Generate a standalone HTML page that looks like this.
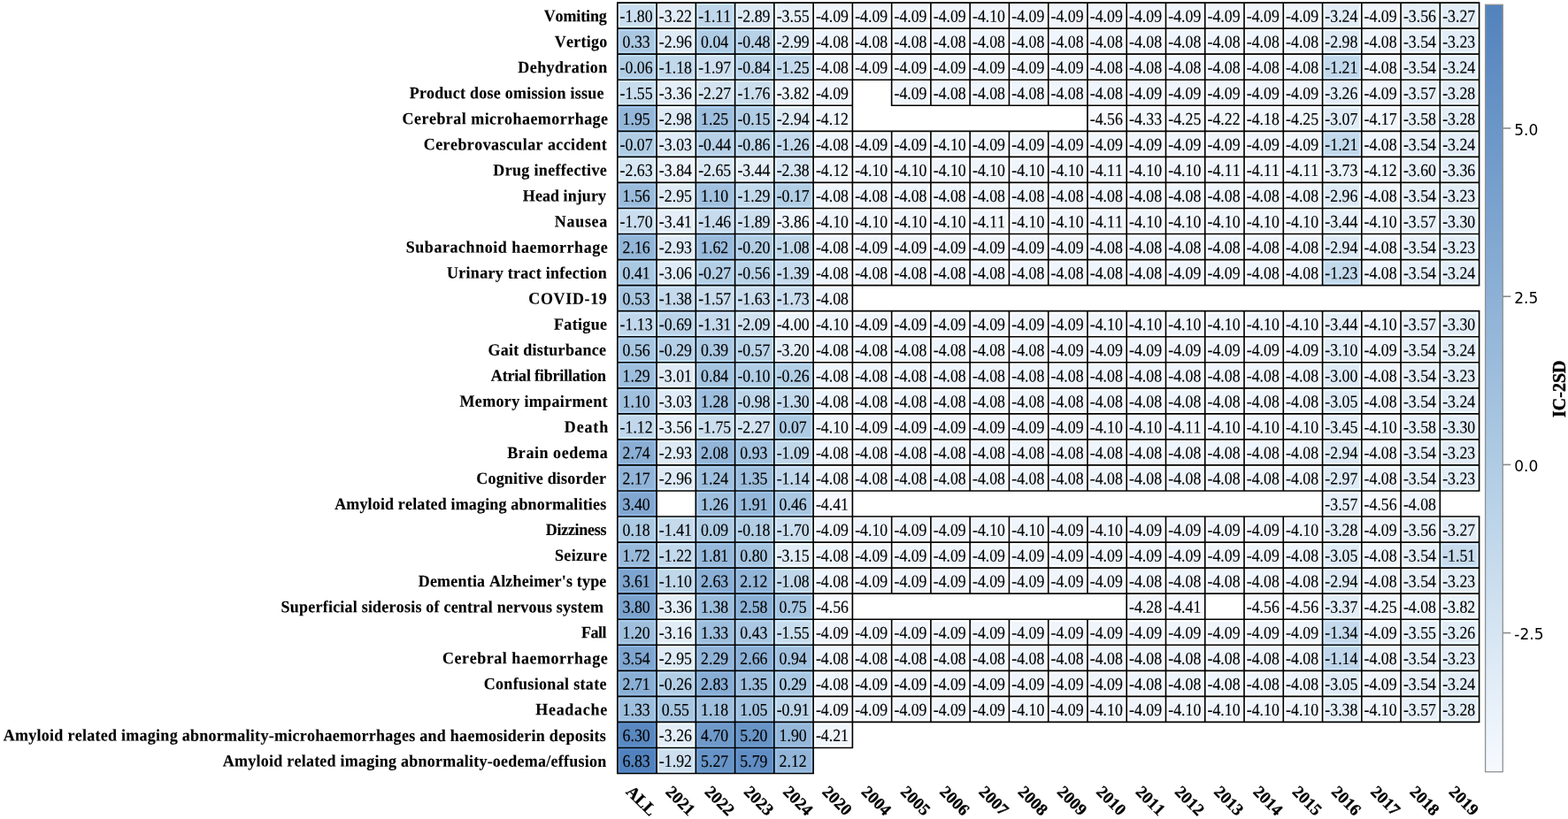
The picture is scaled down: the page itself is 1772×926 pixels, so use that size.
<!DOCTYPE html>
<html lang="en">
<head>
<meta charset="utf-8">
<title>IC-2SD heatmap</title>
<style>
html,body{margin:0;padding:0;background:#fff;}
body{width:1772px;height:926px;overflow:hidden;}
svg{display:block;}
text{fill:#000;font-kerning:none;}
.c{font-family:"Liberation Serif","Times New Roman",Times,serif;font-size:17.8px;text-anchor:middle;stroke:#000;stroke-width:0.12;}
.y{font-family:"Liberation Serif","Times New Roman",Times,serif;font-weight:bold;font-size:18px;white-space:pre;stroke:#000;stroke-width:0.12;}
.x{font-family:"Liberation Serif","Times New Roman",Times,serif;font-weight:bold;font-size:19px;text-anchor:middle;stroke:#000;stroke-width:0.3;}
.t{font-family:"DejaVu Sans","Liberation Sans",sans-serif;font-size:17px;}
.l{font-family:"Liberation Serif","Times New Roman",Times,serif;font-weight:bold;font-size:20px;text-anchor:middle;stroke:#000;stroke-width:0.4;}
.g{fill:none;stroke:#000;stroke-width:1.65;stroke-linecap:square;}
</style>
</head>
<body>
<svg width="1772" height="926" viewBox="0 0 1772 926">
<defs><linearGradient id="g" x1="0" y1="1" x2="0" y2="0"><stop offset="0" stop-color="#f7faff"/><stop offset="0.4" stop-color="#afcce4"/><stop offset="1" stop-color="#5282bd"/></linearGradient></defs>
<g stroke-width="2.83">
<rect x="699.21" y="4.51" width="41.44" height="26.22" fill="#cbdeef" stroke="#daefff"/><rect x="743.48" y="4.51" width="41.44" height="26.22" fill="#e2ecf7" stroke="#f3feff"/><rect x="787.74" y="4.51" width="41.44" height="26.22" fill="#c0d7eb" stroke="#cee7fd"/><rect x="832" y="4.51" width="41.44" height="26.22" fill="#dde9f5" stroke="#eefaff"/><rect x="876.27" y="4.51" width="41.44" height="26.22" fill="#e7f0f9" stroke="#f8ffff"/><rect x="920.53" y="4.51" width="41.44" height="26.22" fill="#f0f5fc" stroke="#ffffff"/><rect x="964.79" y="4.51" width="41.44" height="26.22" fill="#f0f5fc" stroke="#ffffff"/><rect x="1009.06" y="4.51" width="41.44" height="26.22" fill="#f0f5fc" stroke="#ffffff"/><rect x="1053.32" y="4.51" width="41.44" height="26.22" fill="#f0f5fc" stroke="#ffffff"/><rect x="1097.59" y="4.51" width="41.44" height="26.22" fill="#f0f5fc" stroke="#ffffff"/><rect x="1141.85" y="4.51" width="41.44" height="26.22" fill="#f0f5fc" stroke="#ffffff"/><rect x="1186.11" y="4.51" width="41.44" height="26.22" fill="#f0f5fc" stroke="#ffffff"/><rect x="1230.38" y="4.51" width="41.44" height="26.22" fill="#f0f5fc" stroke="#ffffff"/><rect x="1274.64" y="4.51" width="41.44" height="26.22" fill="#f0f5fc" stroke="#ffffff"/><rect x="1318.9" y="4.51" width="41.44" height="26.22" fill="#f0f5fc" stroke="#ffffff"/><rect x="1363.17" y="4.51" width="41.44" height="26.22" fill="#f0f5fc" stroke="#ffffff"/><rect x="1407.43" y="4.51" width="41.44" height="26.22" fill="#f0f5fc" stroke="#ffffff"/><rect x="1451.69" y="4.51" width="41.44" height="26.22" fill="#f0f5fc" stroke="#ffffff"/><rect x="1495.96" y="4.51" width="41.44" height="26.22" fill="#e2edf7" stroke="#f3ffff"/><rect x="1540.22" y="4.51" width="41.44" height="26.22" fill="#f0f5fc" stroke="#ffffff"/><rect x="1584.49" y="4.51" width="41.44" height="26.22" fill="#e7f0f9" stroke="#f8ffff"/><rect x="1628.75" y="4.51" width="41.44" height="26.22" fill="#e3edf7" stroke="#f4ffff"/>
<rect x="699.21" y="33.56" width="41.44" height="26.22" fill="#aac8e2" stroke="#b7d7f3"/><rect x="743.48" y="33.56" width="41.44" height="26.22" fill="#deeaf6" stroke="#effcff"/><rect x="787.74" y="33.56" width="41.44" height="26.22" fill="#aecce4" stroke="#bbdbf5"/><rect x="832" y="33.56" width="41.44" height="26.22" fill="#b7d1e7" stroke="#c5e1f8"/><rect x="876.27" y="33.56" width="41.44" height="26.22" fill="#deeaf6" stroke="#effcff"/><rect x="920.53" y="33.56" width="41.44" height="26.22" fill="#eff5fc" stroke="#ffffff"/><rect x="964.79" y="33.56" width="41.44" height="26.22" fill="#eff5fc" stroke="#ffffff"/><rect x="1009.06" y="33.56" width="41.44" height="26.22" fill="#eff5fc" stroke="#ffffff"/><rect x="1053.32" y="33.56" width="41.44" height="26.22" fill="#eff5fc" stroke="#ffffff"/><rect x="1097.59" y="33.56" width="41.44" height="26.22" fill="#eff5fc" stroke="#ffffff"/><rect x="1141.85" y="33.56" width="41.44" height="26.22" fill="#eff5fc" stroke="#ffffff"/><rect x="1186.11" y="33.56" width="41.44" height="26.22" fill="#eff5fc" stroke="#ffffff"/><rect x="1230.38" y="33.56" width="41.44" height="26.22" fill="#eff5fc" stroke="#ffffff"/><rect x="1274.64" y="33.56" width="41.44" height="26.22" fill="#eff5fc" stroke="#ffffff"/><rect x="1318.9" y="33.56" width="41.44" height="26.22" fill="#eff5fc" stroke="#ffffff"/><rect x="1363.17" y="33.56" width="41.44" height="26.22" fill="#eff5fc" stroke="#ffffff"/><rect x="1407.43" y="33.56" width="41.44" height="26.22" fill="#eff5fc" stroke="#ffffff"/><rect x="1451.69" y="33.56" width="41.44" height="26.22" fill="#eff5fc" stroke="#ffffff"/><rect x="1495.96" y="33.56" width="41.44" height="26.22" fill="#deeaf6" stroke="#effcff"/><rect x="1540.22" y="33.56" width="41.44" height="26.22" fill="#eff5fc" stroke="#ffffff"/><rect x="1584.49" y="33.56" width="41.44" height="26.22" fill="#e7f0f9" stroke="#f8ffff"/><rect x="1628.75" y="33.56" width="41.44" height="26.22" fill="#e2edf7" stroke="#f3ffff"/>
<rect x="699.21" y="62.61" width="41.44" height="26.22" fill="#b0cde4" stroke="#bddcf5"/><rect x="743.48" y="62.61" width="41.44" height="26.22" fill="#c2d8eb" stroke="#d1e8fd"/><rect x="787.74" y="62.61" width="41.44" height="26.22" fill="#cee0f0" stroke="#ddf1ff"/><rect x="832" y="62.61" width="41.44" height="26.22" fill="#bcd4e9" stroke="#cae4fa"/><rect x="876.27" y="62.61" width="41.44" height="26.22" fill="#c3d9eb" stroke="#d2e9fd"/><rect x="920.53" y="62.61" width="41.44" height="26.22" fill="#eff5fc" stroke="#ffffff"/><rect x="964.79" y="62.61" width="41.44" height="26.22" fill="#f0f5fc" stroke="#ffffff"/><rect x="1009.06" y="62.61" width="41.44" height="26.22" fill="#f0f5fc" stroke="#ffffff"/><rect x="1053.32" y="62.61" width="41.44" height="26.22" fill="#f0f5fc" stroke="#ffffff"/><rect x="1097.59" y="62.61" width="41.44" height="26.22" fill="#f0f5fc" stroke="#ffffff"/><rect x="1141.85" y="62.61" width="41.44" height="26.22" fill="#f0f5fc" stroke="#ffffff"/><rect x="1186.11" y="62.61" width="41.44" height="26.22" fill="#f0f5fc" stroke="#ffffff"/><rect x="1230.38" y="62.61" width="41.44" height="26.22" fill="#eff5fc" stroke="#ffffff"/><rect x="1274.64" y="62.61" width="41.44" height="26.22" fill="#eff5fc" stroke="#ffffff"/><rect x="1318.9" y="62.61" width="41.44" height="26.22" fill="#eff5fc" stroke="#ffffff"/><rect x="1363.17" y="62.61" width="41.44" height="26.22" fill="#eff5fc" stroke="#ffffff"/><rect x="1407.43" y="62.61" width="41.44" height="26.22" fill="#eff5fc" stroke="#ffffff"/><rect x="1451.69" y="62.61" width="41.44" height="26.22" fill="#eff5fc" stroke="#ffffff"/><rect x="1495.96" y="62.61" width="41.44" height="26.22" fill="#c2d8eb" stroke="#d1e8fd"/><rect x="1540.22" y="62.61" width="41.44" height="26.22" fill="#eff5fc" stroke="#ffffff"/><rect x="1584.49" y="62.61" width="41.44" height="26.22" fill="#e7f0f9" stroke="#f8ffff"/><rect x="1628.75" y="62.61" width="41.44" height="26.22" fill="#e2edf7" stroke="#f3ffff"/>
<rect x="699.21" y="91.65" width="41.44" height="26.22" fill="#c7dced" stroke="#d6ecff"/><rect x="743.48" y="91.65" width="41.44" height="26.22" fill="#e4eef8" stroke="#f5ffff"/><rect x="787.74" y="91.65" width="41.44" height="26.22" fill="#d3e3f1" stroke="#e3f4ff"/><rect x="832" y="91.65" width="41.44" height="26.22" fill="#cbdeee" stroke="#daefff"/><rect x="876.27" y="91.65" width="41.44" height="26.22" fill="#ebf3fb" stroke="#fdffff"/><rect x="920.53" y="91.65" width="41.44" height="26.22" fill="#f0f5fc" stroke="#ffffff"/><rect x="1009.06" y="91.65" width="41.44" height="26.22" fill="#f0f5fc" stroke="#ffffff"/><rect x="1053.32" y="91.65" width="41.44" height="26.22" fill="#eff5fc" stroke="#ffffff"/><rect x="1097.59" y="91.65" width="41.44" height="26.22" fill="#eff5fc" stroke="#ffffff"/><rect x="1141.85" y="91.65" width="41.44" height="26.22" fill="#eff5fc" stroke="#ffffff"/><rect x="1186.11" y="91.65" width="41.44" height="26.22" fill="#eff5fc" stroke="#ffffff"/><rect x="1230.38" y="91.65" width="41.44" height="26.22" fill="#eff5fc" stroke="#ffffff"/><rect x="1274.64" y="91.65" width="41.44" height="26.22" fill="#f0f5fc" stroke="#ffffff"/><rect x="1318.9" y="91.65" width="41.44" height="26.22" fill="#f0f5fc" stroke="#ffffff"/><rect x="1363.17" y="91.65" width="41.44" height="26.22" fill="#f0f5fc" stroke="#ffffff"/><rect x="1407.43" y="91.65" width="41.44" height="26.22" fill="#f0f5fc" stroke="#ffffff"/><rect x="1451.69" y="91.65" width="41.44" height="26.22" fill="#f0f5fc" stroke="#ffffff"/><rect x="1495.96" y="91.65" width="41.44" height="26.22" fill="#e2edf7" stroke="#f3ffff"/><rect x="1540.22" y="91.65" width="41.44" height="26.22" fill="#f0f5fc" stroke="#ffffff"/><rect x="1584.49" y="91.65" width="41.44" height="26.22" fill="#e7f0f9" stroke="#f8ffff"/><rect x="1628.75" y="91.65" width="41.44" height="26.22" fill="#e3edf7" stroke="#f4ffff"/>
<rect x="699.21" y="120.7" width="41.44" height="26.22" fill="#94b7d9" stroke="#9fc5e9"/><rect x="743.48" y="120.7" width="41.44" height="26.22" fill="#deeaf6" stroke="#effcff"/><rect x="787.74" y="120.7" width="41.44" height="26.22" fill="#9ebedd" stroke="#aaccee"/><rect x="832" y="120.7" width="41.44" height="26.22" fill="#b1cde5" stroke="#bedcf6"/><rect x="876.27" y="120.7" width="41.44" height="26.22" fill="#ddeaf5" stroke="#eefcff"/><rect x="920.53" y="120.7" width="41.44" height="26.22" fill="#f0f6fc" stroke="#ffffff"/><rect x="1230.38" y="120.7" width="41.44" height="26.22" fill="#f7faff" stroke="#ffffff"/><rect x="1274.64" y="120.7" width="41.44" height="26.22" fill="#f3f8fe" stroke="#ffffff"/><rect x="1318.9" y="120.7" width="41.44" height="26.22" fill="#f2f7fd" stroke="#ffffff"/><rect x="1363.17" y="120.7" width="41.44" height="26.22" fill="#f2f7fd" stroke="#ffffff"/><rect x="1407.43" y="120.7" width="41.44" height="26.22" fill="#f1f6fd" stroke="#ffffff"/><rect x="1451.69" y="120.7" width="41.44" height="26.22" fill="#f2f7fd" stroke="#ffffff"/><rect x="1495.96" y="120.7" width="41.44" height="26.22" fill="#dfebf6" stroke="#f0fdff"/><rect x="1540.22" y="120.7" width="41.44" height="26.22" fill="#f1f6fd" stroke="#ffffff"/><rect x="1584.49" y="120.7" width="41.44" height="26.22" fill="#e8f0f9" stroke="#f9ffff"/><rect x="1628.75" y="120.7" width="41.44" height="26.22" fill="#e3edf7" stroke="#f4ffff"/>
<rect x="699.21" y="149.75" width="41.44" height="26.22" fill="#b0cde4" stroke="#bddcf5"/><rect x="743.48" y="149.75" width="41.44" height="26.22" fill="#dfebf6" stroke="#f0fdff"/><rect x="787.74" y="149.75" width="41.44" height="26.22" fill="#b6d0e7" stroke="#c4e0f8"/><rect x="832" y="149.75" width="41.44" height="26.22" fill="#bdd5e9" stroke="#cbe5fa"/><rect x="876.27" y="149.75" width="41.44" height="26.22" fill="#c3d9eb" stroke="#d2e9fd"/><rect x="920.53" y="149.75" width="41.44" height="26.22" fill="#eff5fc" stroke="#ffffff"/><rect x="964.79" y="149.75" width="41.44" height="26.22" fill="#f0f5fc" stroke="#ffffff"/><rect x="1009.06" y="149.75" width="41.44" height="26.22" fill="#f0f5fc" stroke="#ffffff"/><rect x="1053.32" y="149.75" width="41.44" height="26.22" fill="#f0f5fc" stroke="#ffffff"/><rect x="1097.59" y="149.75" width="41.44" height="26.22" fill="#f0f5fc" stroke="#ffffff"/><rect x="1141.85" y="149.75" width="41.44" height="26.22" fill="#f0f5fc" stroke="#ffffff"/><rect x="1186.11" y="149.75" width="41.44" height="26.22" fill="#f0f5fc" stroke="#ffffff"/><rect x="1230.38" y="149.75" width="41.44" height="26.22" fill="#f0f5fc" stroke="#ffffff"/><rect x="1274.64" y="149.75" width="41.44" height="26.22" fill="#f0f5fc" stroke="#ffffff"/><rect x="1318.9" y="149.75" width="41.44" height="26.22" fill="#f0f5fc" stroke="#ffffff"/><rect x="1363.17" y="149.75" width="41.44" height="26.22" fill="#f0f5fc" stroke="#ffffff"/><rect x="1407.43" y="149.75" width="41.44" height="26.22" fill="#f0f5fc" stroke="#ffffff"/><rect x="1451.69" y="149.75" width="41.44" height="26.22" fill="#f0f5fc" stroke="#ffffff"/><rect x="1495.96" y="149.75" width="41.44" height="26.22" fill="#c2d8eb" stroke="#d1e8fd"/><rect x="1540.22" y="149.75" width="41.44" height="26.22" fill="#eff5fc" stroke="#ffffff"/><rect x="1584.49" y="149.75" width="41.44" height="26.22" fill="#e7f0f9" stroke="#f8ffff"/><rect x="1628.75" y="149.75" width="41.44" height="26.22" fill="#e2edf7" stroke="#f3ffff"/>
<rect x="699.21" y="178.79" width="41.44" height="26.22" fill="#d8e7f4" stroke="#e8f8ff"/><rect x="743.48" y="178.79" width="41.44" height="26.22" fill="#ecf3fb" stroke="#feffff"/><rect x="787.74" y="178.79" width="41.44" height="26.22" fill="#d9e7f4" stroke="#e9f8ff"/><rect x="832" y="178.79" width="41.44" height="26.22" fill="#e5eff8" stroke="#f6ffff"/><rect x="876.27" y="178.79" width="41.44" height="26.22" fill="#d5e4f2" stroke="#e5f5ff"/><rect x="920.53" y="178.79" width="41.44" height="26.22" fill="#f0f6fc" stroke="#ffffff"/><rect x="964.79" y="178.79" width="41.44" height="26.22" fill="#f0f5fc" stroke="#ffffff"/><rect x="1009.06" y="178.79" width="41.44" height="26.22" fill="#f0f5fc" stroke="#ffffff"/><rect x="1053.32" y="178.79" width="41.44" height="26.22" fill="#f0f5fc" stroke="#ffffff"/><rect x="1097.59" y="178.79" width="41.44" height="26.22" fill="#f0f5fc" stroke="#ffffff"/><rect x="1141.85" y="178.79" width="41.44" height="26.22" fill="#f0f5fc" stroke="#ffffff"/><rect x="1186.11" y="178.79" width="41.44" height="26.22" fill="#f0f5fc" stroke="#ffffff"/><rect x="1230.38" y="178.79" width="41.44" height="26.22" fill="#f0f5fc" stroke="#ffffff"/><rect x="1274.64" y="178.79" width="41.44" height="26.22" fill="#f0f5fc" stroke="#ffffff"/><rect x="1318.9" y="178.79" width="41.44" height="26.22" fill="#f0f5fc" stroke="#ffffff"/><rect x="1363.17" y="178.79" width="41.44" height="26.22" fill="#f0f5fc" stroke="#ffffff"/><rect x="1407.43" y="178.79" width="41.44" height="26.22" fill="#f0f5fc" stroke="#ffffff"/><rect x="1451.69" y="178.79" width="41.44" height="26.22" fill="#f0f5fc" stroke="#ffffff"/><rect x="1495.96" y="178.79" width="41.44" height="26.22" fill="#eaf2fa" stroke="#fcffff"/><rect x="1540.22" y="178.79" width="41.44" height="26.22" fill="#f0f6fc" stroke="#ffffff"/><rect x="1584.49" y="178.79" width="41.44" height="26.22" fill="#e8f0f9" stroke="#f9ffff"/><rect x="1628.75" y="178.79" width="41.44" height="26.22" fill="#e4eef8" stroke="#f5ffff"/>
<rect x="699.21" y="207.84" width="41.44" height="26.22" fill="#9abbdb" stroke="#a6c9eb"/><rect x="743.48" y="207.84" width="41.44" height="26.22" fill="#deeaf5" stroke="#effcff"/><rect x="787.74" y="207.84" width="41.44" height="26.22" fill="#a0c0de" stroke="#acceef"/><rect x="832" y="207.84" width="41.44" height="26.22" fill="#c3d9ec" stroke="#d2e9fe"/><rect x="876.27" y="207.84" width="41.44" height="26.22" fill="#b2cee5" stroke="#bfddf6"/><rect x="920.53" y="207.84" width="41.44" height="26.22" fill="#eff5fc" stroke="#ffffff"/><rect x="964.79" y="207.84" width="41.44" height="26.22" fill="#eff5fc" stroke="#ffffff"/><rect x="1009.06" y="207.84" width="41.44" height="26.22" fill="#eff5fc" stroke="#ffffff"/><rect x="1053.32" y="207.84" width="41.44" height="26.22" fill="#eff5fc" stroke="#ffffff"/><rect x="1097.59" y="207.84" width="41.44" height="26.22" fill="#eff5fc" stroke="#ffffff"/><rect x="1141.85" y="207.84" width="41.44" height="26.22" fill="#eff5fc" stroke="#ffffff"/><rect x="1186.11" y="207.84" width="41.44" height="26.22" fill="#eff5fc" stroke="#ffffff"/><rect x="1230.38" y="207.84" width="41.44" height="26.22" fill="#eff5fc" stroke="#ffffff"/><rect x="1274.64" y="207.84" width="41.44" height="26.22" fill="#eff5fc" stroke="#ffffff"/><rect x="1318.9" y="207.84" width="41.44" height="26.22" fill="#eff5fc" stroke="#ffffff"/><rect x="1363.17" y="207.84" width="41.44" height="26.22" fill="#eff5fc" stroke="#ffffff"/><rect x="1407.43" y="207.84" width="41.44" height="26.22" fill="#eff5fc" stroke="#ffffff"/><rect x="1451.69" y="207.84" width="41.44" height="26.22" fill="#eff5fc" stroke="#ffffff"/><rect x="1495.96" y="207.84" width="41.44" height="26.22" fill="#deeaf6" stroke="#effcff"/><rect x="1540.22" y="207.84" width="41.44" height="26.22" fill="#eff5fc" stroke="#ffffff"/><rect x="1584.49" y="207.84" width="41.44" height="26.22" fill="#e7f0f9" stroke="#f8ffff"/><rect x="1628.75" y="207.84" width="41.44" height="26.22" fill="#e2edf7" stroke="#f3ffff"/>
<rect x="699.21" y="236.89" width="41.44" height="26.22" fill="#caddee" stroke="#d9eeff"/><rect x="743.48" y="236.89" width="41.44" height="26.22" fill="#e5eef8" stroke="#f6ffff"/><rect x="787.74" y="236.89" width="41.44" height="26.22" fill="#c6dbed" stroke="#d5ebff"/><rect x="832" y="236.89" width="41.44" height="26.22" fill="#cddfef" stroke="#dcf0ff"/><rect x="876.27" y="236.89" width="41.44" height="26.22" fill="#ecf3fb" stroke="#feffff"/><rect x="920.53" y="236.89" width="41.44" height="26.22" fill="#f0f5fc" stroke="#ffffff"/><rect x="964.79" y="236.89" width="41.44" height="26.22" fill="#f0f5fc" stroke="#ffffff"/><rect x="1009.06" y="236.89" width="41.44" height="26.22" fill="#f0f5fc" stroke="#ffffff"/><rect x="1053.32" y="236.89" width="41.44" height="26.22" fill="#f0f5fc" stroke="#ffffff"/><rect x="1097.59" y="236.89" width="41.44" height="26.22" fill="#f0f5fc" stroke="#ffffff"/><rect x="1141.85" y="236.89" width="41.44" height="26.22" fill="#f0f5fc" stroke="#ffffff"/><rect x="1186.11" y="236.89" width="41.44" height="26.22" fill="#f0f5fc" stroke="#ffffff"/><rect x="1230.38" y="236.89" width="41.44" height="26.22" fill="#f0f5fc" stroke="#ffffff"/><rect x="1274.64" y="236.89" width="41.44" height="26.22" fill="#f0f5fc" stroke="#ffffff"/><rect x="1318.9" y="236.89" width="41.44" height="26.22" fill="#f0f5fc" stroke="#ffffff"/><rect x="1363.17" y="236.89" width="41.44" height="26.22" fill="#f0f5fc" stroke="#ffffff"/><rect x="1407.43" y="236.89" width="41.44" height="26.22" fill="#f0f5fc" stroke="#ffffff"/><rect x="1451.69" y="236.89" width="41.44" height="26.22" fill="#f0f5fc" stroke="#ffffff"/><rect x="1495.96" y="236.89" width="41.44" height="26.22" fill="#e5eff8" stroke="#f6ffff"/><rect x="1540.22" y="236.89" width="41.44" height="26.22" fill="#f0f5fc" stroke="#ffffff"/><rect x="1584.49" y="236.89" width="41.44" height="26.22" fill="#e7f0f9" stroke="#f8ffff"/><rect x="1628.75" y="236.89" width="41.44" height="26.22" fill="#e3edf8" stroke="#f4ffff"/>
<rect x="699.21" y="265.93" width="41.44" height="26.22" fill="#92b5d8" stroke="#9dc3e8"/><rect x="743.48" y="265.93" width="41.44" height="26.22" fill="#ddeaf5" stroke="#eefcff"/><rect x="787.74" y="265.93" width="41.44" height="26.22" fill="#99badb" stroke="#a4c8eb"/><rect x="832" y="265.93" width="41.44" height="26.22" fill="#b2cee5" stroke="#bfddf6"/><rect x="876.27" y="265.93" width="41.44" height="26.22" fill="#c0d7ea" stroke="#cee7fc"/><rect x="920.53" y="265.93" width="41.44" height="26.22" fill="#eff5fc" stroke="#ffffff"/><rect x="964.79" y="265.93" width="41.44" height="26.22" fill="#f0f5fc" stroke="#ffffff"/><rect x="1009.06" y="265.93" width="41.44" height="26.22" fill="#f0f5fc" stroke="#ffffff"/><rect x="1053.32" y="265.93" width="41.44" height="26.22" fill="#f0f5fc" stroke="#ffffff"/><rect x="1097.59" y="265.93" width="41.44" height="26.22" fill="#f0f5fc" stroke="#ffffff"/><rect x="1141.85" y="265.93" width="41.44" height="26.22" fill="#f0f5fc" stroke="#ffffff"/><rect x="1186.11" y="265.93" width="41.44" height="26.22" fill="#f0f5fc" stroke="#ffffff"/><rect x="1230.38" y="265.93" width="41.44" height="26.22" fill="#eff5fc" stroke="#ffffff"/><rect x="1274.64" y="265.93" width="41.44" height="26.22" fill="#eff5fc" stroke="#ffffff"/><rect x="1318.9" y="265.93" width="41.44" height="26.22" fill="#eff5fc" stroke="#ffffff"/><rect x="1363.17" y="265.93" width="41.44" height="26.22" fill="#eff5fc" stroke="#ffffff"/><rect x="1407.43" y="265.93" width="41.44" height="26.22" fill="#eff5fc" stroke="#ffffff"/><rect x="1451.69" y="265.93" width="41.44" height="26.22" fill="#eff5fc" stroke="#ffffff"/><rect x="1495.96" y="265.93" width="41.44" height="26.22" fill="#ddeaf5" stroke="#eefcff"/><rect x="1540.22" y="265.93" width="41.44" height="26.22" fill="#eff5fc" stroke="#ffffff"/><rect x="1584.49" y="265.93" width="41.44" height="26.22" fill="#e7f0f9" stroke="#f8ffff"/><rect x="1628.75" y="265.93" width="41.44" height="26.22" fill="#e2edf7" stroke="#f3ffff"/>
<rect x="699.21" y="294.98" width="41.44" height="26.22" fill="#a9c8e2" stroke="#b6d7f3"/><rect x="743.48" y="294.98" width="41.44" height="26.22" fill="#dfebf6" stroke="#f0fdff"/><rect x="787.74" y="294.98" width="41.44" height="26.22" fill="#b3cfe6" stroke="#c0dff7"/><rect x="832" y="294.98" width="41.44" height="26.22" fill="#b8d2e7" stroke="#c6e2f8"/><rect x="876.27" y="294.98" width="41.44" height="26.22" fill="#c5daec" stroke="#d4eafe"/><rect x="920.53" y="294.98" width="41.44" height="26.22" fill="#eff5fc" stroke="#ffffff"/><rect x="964.79" y="294.98" width="41.44" height="26.22" fill="#eff5fc" stroke="#ffffff"/><rect x="1009.06" y="294.98" width="41.44" height="26.22" fill="#eff5fc" stroke="#ffffff"/><rect x="1053.32" y="294.98" width="41.44" height="26.22" fill="#eff5fc" stroke="#ffffff"/><rect x="1097.59" y="294.98" width="41.44" height="26.22" fill="#eff5fc" stroke="#ffffff"/><rect x="1141.85" y="294.98" width="41.44" height="26.22" fill="#eff5fc" stroke="#ffffff"/><rect x="1186.11" y="294.98" width="41.44" height="26.22" fill="#eff5fc" stroke="#ffffff"/><rect x="1230.38" y="294.98" width="41.44" height="26.22" fill="#eff5fc" stroke="#ffffff"/><rect x="1274.64" y="294.98" width="41.44" height="26.22" fill="#eff5fc" stroke="#ffffff"/><rect x="1318.9" y="294.98" width="41.44" height="26.22" fill="#f0f5fc" stroke="#ffffff"/><rect x="1363.17" y="294.98" width="41.44" height="26.22" fill="#f0f5fc" stroke="#ffffff"/><rect x="1407.43" y="294.98" width="41.44" height="26.22" fill="#eff5fc" stroke="#ffffff"/><rect x="1451.69" y="294.98" width="41.44" height="26.22" fill="#eff5fc" stroke="#ffffff"/><rect x="1495.96" y="294.98" width="41.44" height="26.22" fill="#c2d8eb" stroke="#d1e8fd"/><rect x="1540.22" y="294.98" width="41.44" height="26.22" fill="#eff5fc" stroke="#ffffff"/><rect x="1584.49" y="294.98" width="41.44" height="26.22" fill="#e7f0f9" stroke="#f8ffff"/><rect x="1628.75" y="294.98" width="41.44" height="26.22" fill="#e2edf7" stroke="#f3ffff"/>
<rect x="699.21" y="324.03" width="41.44" height="26.22" fill="#a8c6e1" stroke="#b5d5f2"/><rect x="743.48" y="324.03" width="41.44" height="26.22" fill="#c5daec" stroke="#d4eafe"/><rect x="787.74" y="324.03" width="41.44" height="26.22" fill="#c8dced" stroke="#d7ecff"/><rect x="832" y="324.03" width="41.44" height="26.22" fill="#c9dcee" stroke="#d8ecff"/><rect x="876.27" y="324.03" width="41.44" height="26.22" fill="#caddee" stroke="#d9eeff"/><rect x="920.53" y="324.03" width="41.44" height="26.22" fill="#eff5fc" stroke="#ffffff"/>
<rect x="699.21" y="353.07" width="41.44" height="26.22" fill="#c1d7eb" stroke="#cfe7fd"/><rect x="743.48" y="353.07" width="41.44" height="26.22" fill="#bad3e8" stroke="#c8e3f9"/><rect x="787.74" y="353.07" width="41.44" height="26.22" fill="#c4d9ec" stroke="#d3e9fe"/><rect x="832" y="353.07" width="41.44" height="26.22" fill="#d0e1f0" stroke="#e0f2ff"/><rect x="876.27" y="353.07" width="41.44" height="26.22" fill="#eef4fc" stroke="#ffffff"/><rect x="920.53" y="353.07" width="41.44" height="26.22" fill="#f0f5fc" stroke="#ffffff"/><rect x="964.79" y="353.07" width="41.44" height="26.22" fill="#f0f5fc" stroke="#ffffff"/><rect x="1009.06" y="353.07" width="41.44" height="26.22" fill="#f0f5fc" stroke="#ffffff"/><rect x="1053.32" y="353.07" width="41.44" height="26.22" fill="#f0f5fc" stroke="#ffffff"/><rect x="1097.59" y="353.07" width="41.44" height="26.22" fill="#f0f5fc" stroke="#ffffff"/><rect x="1141.85" y="353.07" width="41.44" height="26.22" fill="#f0f5fc" stroke="#ffffff"/><rect x="1186.11" y="353.07" width="41.44" height="26.22" fill="#f0f5fc" stroke="#ffffff"/><rect x="1230.38" y="353.07" width="41.44" height="26.22" fill="#f0f5fc" stroke="#ffffff"/><rect x="1274.64" y="353.07" width="41.44" height="26.22" fill="#f0f5fc" stroke="#ffffff"/><rect x="1318.9" y="353.07" width="41.44" height="26.22" fill="#f0f5fc" stroke="#ffffff"/><rect x="1363.17" y="353.07" width="41.44" height="26.22" fill="#f0f5fc" stroke="#ffffff"/><rect x="1407.43" y="353.07" width="41.44" height="26.22" fill="#f0f5fc" stroke="#ffffff"/><rect x="1451.69" y="353.07" width="41.44" height="26.22" fill="#f0f5fc" stroke="#ffffff"/><rect x="1495.96" y="353.07" width="41.44" height="26.22" fill="#e5eff8" stroke="#f6ffff"/><rect x="1540.22" y="353.07" width="41.44" height="26.22" fill="#f0f5fc" stroke="#ffffff"/><rect x="1584.49" y="353.07" width="41.44" height="26.22" fill="#e7f0f9" stroke="#f8ffff"/><rect x="1628.75" y="353.07" width="41.44" height="26.22" fill="#e3edf8" stroke="#f4ffff"/>
<rect x="699.21" y="382.12" width="41.44" height="26.22" fill="#a7c6e1" stroke="#b4d5f2"/><rect x="743.48" y="382.12" width="41.44" height="26.22" fill="#b4cfe6" stroke="#c2dff7"/><rect x="787.74" y="382.12" width="41.44" height="26.22" fill="#aac8e2" stroke="#b7d7f3"/><rect x="832" y="382.12" width="41.44" height="26.22" fill="#b8d2e7" stroke="#c6e2f8"/><rect x="876.27" y="382.12" width="41.44" height="26.22" fill="#e2ecf7" stroke="#f3feff"/><rect x="920.53" y="382.12" width="41.44" height="26.22" fill="#eff5fc" stroke="#ffffff"/><rect x="964.79" y="382.12" width="41.44" height="26.22" fill="#eff5fc" stroke="#ffffff"/><rect x="1009.06" y="382.12" width="41.44" height="26.22" fill="#eff5fc" stroke="#ffffff"/><rect x="1053.32" y="382.12" width="41.44" height="26.22" fill="#eff5fc" stroke="#ffffff"/><rect x="1097.59" y="382.12" width="41.44" height="26.22" fill="#eff5fc" stroke="#ffffff"/><rect x="1141.85" y="382.12" width="41.44" height="26.22" fill="#eff5fc" stroke="#ffffff"/><rect x="1186.11" y="382.12" width="41.44" height="26.22" fill="#f0f5fc" stroke="#ffffff"/><rect x="1230.38" y="382.12" width="41.44" height="26.22" fill="#f0f5fc" stroke="#ffffff"/><rect x="1274.64" y="382.12" width="41.44" height="26.22" fill="#f0f5fc" stroke="#ffffff"/><rect x="1318.9" y="382.12" width="41.44" height="26.22" fill="#f0f5fc" stroke="#ffffff"/><rect x="1363.17" y="382.12" width="41.44" height="26.22" fill="#f0f5fc" stroke="#ffffff"/><rect x="1407.43" y="382.12" width="41.44" height="26.22" fill="#f0f5fc" stroke="#ffffff"/><rect x="1451.69" y="382.12" width="41.44" height="26.22" fill="#f0f5fc" stroke="#ffffff"/><rect x="1495.96" y="382.12" width="41.44" height="26.22" fill="#e0ebf6" stroke="#f1fdff"/><rect x="1540.22" y="382.12" width="41.44" height="26.22" fill="#f0f5fc" stroke="#ffffff"/><rect x="1584.49" y="382.12" width="41.44" height="26.22" fill="#e7f0f9" stroke="#f8ffff"/><rect x="1628.75" y="382.12" width="41.44" height="26.22" fill="#e2edf7" stroke="#f3ffff"/>
<rect x="699.21" y="411.17" width="41.44" height="26.22" fill="#9dbedd" stroke="#a9ccee"/><rect x="743.48" y="411.17" width="41.44" height="26.22" fill="#dfeaf6" stroke="#f0fcff"/><rect x="787.74" y="411.17" width="41.44" height="26.22" fill="#a4c3df" stroke="#b0d2f0"/><rect x="832" y="411.17" width="41.44" height="26.22" fill="#b1cde5" stroke="#bedcf6"/><rect x="876.27" y="411.17" width="41.44" height="26.22" fill="#b3cfe6" stroke="#c0dff7"/><rect x="920.53" y="411.17" width="41.44" height="26.22" fill="#eff5fc" stroke="#ffffff"/><rect x="964.79" y="411.17" width="41.44" height="26.22" fill="#eff5fc" stroke="#ffffff"/><rect x="1009.06" y="411.17" width="41.44" height="26.22" fill="#eff5fc" stroke="#ffffff"/><rect x="1053.32" y="411.17" width="41.44" height="26.22" fill="#eff5fc" stroke="#ffffff"/><rect x="1097.59" y="411.17" width="41.44" height="26.22" fill="#eff5fc" stroke="#ffffff"/><rect x="1141.85" y="411.17" width="41.44" height="26.22" fill="#eff5fc" stroke="#ffffff"/><rect x="1186.11" y="411.17" width="41.44" height="26.22" fill="#eff5fc" stroke="#ffffff"/><rect x="1230.38" y="411.17" width="41.44" height="26.22" fill="#eff5fc" stroke="#ffffff"/><rect x="1274.64" y="411.17" width="41.44" height="26.22" fill="#eff5fc" stroke="#ffffff"/><rect x="1318.9" y="411.17" width="41.44" height="26.22" fill="#eff5fc" stroke="#ffffff"/><rect x="1363.17" y="411.17" width="41.44" height="26.22" fill="#eff5fc" stroke="#ffffff"/><rect x="1407.43" y="411.17" width="41.44" height="26.22" fill="#eff5fc" stroke="#ffffff"/><rect x="1451.69" y="411.17" width="41.44" height="26.22" fill="#eff5fc" stroke="#ffffff"/><rect x="1495.96" y="411.17" width="41.44" height="26.22" fill="#deeaf6" stroke="#effcff"/><rect x="1540.22" y="411.17" width="41.44" height="26.22" fill="#eff5fc" stroke="#ffffff"/><rect x="1584.49" y="411.17" width="41.44" height="26.22" fill="#e7f0f9" stroke="#f8ffff"/><rect x="1628.75" y="411.17" width="41.44" height="26.22" fill="#e2edf7" stroke="#f3ffff"/>
<rect x="699.21" y="440.21" width="41.44" height="26.22" fill="#a0c0de" stroke="#acceef"/><rect x="743.48" y="440.21" width="41.44" height="26.22" fill="#dfebf6" stroke="#f0fdff"/><rect x="787.74" y="440.21" width="41.44" height="26.22" fill="#9ebedd" stroke="#aaccee"/><rect x="832" y="440.21" width="41.44" height="26.22" fill="#bed6ea" stroke="#cce6fc"/><rect x="876.27" y="440.21" width="41.44" height="26.22" fill="#c3d9ec" stroke="#d2e9fe"/><rect x="920.53" y="440.21" width="41.44" height="26.22" fill="#eff5fc" stroke="#ffffff"/><rect x="964.79" y="440.21" width="41.44" height="26.22" fill="#eff5fc" stroke="#ffffff"/><rect x="1009.06" y="440.21" width="41.44" height="26.22" fill="#eff5fc" stroke="#ffffff"/><rect x="1053.32" y="440.21" width="41.44" height="26.22" fill="#eff5fc" stroke="#ffffff"/><rect x="1097.59" y="440.21" width="41.44" height="26.22" fill="#eff5fc" stroke="#ffffff"/><rect x="1141.85" y="440.21" width="41.44" height="26.22" fill="#eff5fc" stroke="#ffffff"/><rect x="1186.11" y="440.21" width="41.44" height="26.22" fill="#eff5fc" stroke="#ffffff"/><rect x="1230.38" y="440.21" width="41.44" height="26.22" fill="#eff5fc" stroke="#ffffff"/><rect x="1274.64" y="440.21" width="41.44" height="26.22" fill="#eff5fc" stroke="#ffffff"/><rect x="1318.9" y="440.21" width="41.44" height="26.22" fill="#eff5fc" stroke="#ffffff"/><rect x="1363.17" y="440.21" width="41.44" height="26.22" fill="#eff5fc" stroke="#ffffff"/><rect x="1407.43" y="440.21" width="41.44" height="26.22" fill="#eff5fc" stroke="#ffffff"/><rect x="1451.69" y="440.21" width="41.44" height="26.22" fill="#eff5fc" stroke="#ffffff"/><rect x="1495.96" y="440.21" width="41.44" height="26.22" fill="#dfebf6" stroke="#f0fdff"/><rect x="1540.22" y="440.21" width="41.44" height="26.22" fill="#eff5fc" stroke="#ffffff"/><rect x="1584.49" y="440.21" width="41.44" height="26.22" fill="#e7f0f9" stroke="#f8ffff"/><rect x="1628.75" y="440.21" width="41.44" height="26.22" fill="#e2edf7" stroke="#f3ffff"/>
<rect x="699.21" y="469.26" width="41.44" height="26.22" fill="#c1d7eb" stroke="#cfe7fd"/><rect x="743.48" y="469.26" width="41.44" height="26.22" fill="#e7f0f9" stroke="#f8ffff"/><rect x="787.74" y="469.26" width="41.44" height="26.22" fill="#cbdeee" stroke="#daefff"/><rect x="832" y="469.26" width="41.44" height="26.22" fill="#d3e3f1" stroke="#e3f4ff"/><rect x="876.27" y="469.26" width="41.44" height="26.22" fill="#aecbe4" stroke="#bbdaf5"/><rect x="920.53" y="469.26" width="41.44" height="26.22" fill="#f0f5fc" stroke="#ffffff"/><rect x="964.79" y="469.26" width="41.44" height="26.22" fill="#f0f5fc" stroke="#ffffff"/><rect x="1009.06" y="469.26" width="41.44" height="26.22" fill="#f0f5fc" stroke="#ffffff"/><rect x="1053.32" y="469.26" width="41.44" height="26.22" fill="#f0f5fc" stroke="#ffffff"/><rect x="1097.59" y="469.26" width="41.44" height="26.22" fill="#f0f5fc" stroke="#ffffff"/><rect x="1141.85" y="469.26" width="41.44" height="26.22" fill="#f0f5fc" stroke="#ffffff"/><rect x="1186.11" y="469.26" width="41.44" height="26.22" fill="#f0f5fc" stroke="#ffffff"/><rect x="1230.38" y="469.26" width="41.44" height="26.22" fill="#f0f5fc" stroke="#ffffff"/><rect x="1274.64" y="469.26" width="41.44" height="26.22" fill="#f0f5fc" stroke="#ffffff"/><rect x="1318.9" y="469.26" width="41.44" height="26.22" fill="#f0f5fc" stroke="#ffffff"/><rect x="1363.17" y="469.26" width="41.44" height="26.22" fill="#f0f5fc" stroke="#ffffff"/><rect x="1407.43" y="469.26" width="41.44" height="26.22" fill="#f0f5fc" stroke="#ffffff"/><rect x="1451.69" y="469.26" width="41.44" height="26.22" fill="#f0f5fc" stroke="#ffffff"/><rect x="1495.96" y="469.26" width="41.44" height="26.22" fill="#e5eff8" stroke="#f6ffff"/><rect x="1540.22" y="469.26" width="41.44" height="26.22" fill="#f0f5fc" stroke="#ffffff"/><rect x="1584.49" y="469.26" width="41.44" height="26.22" fill="#e8f0f9" stroke="#f9ffff"/><rect x="1628.75" y="469.26" width="41.44" height="26.22" fill="#e3edf8" stroke="#f4ffff"/>
<rect x="699.21" y="498.31" width="41.44" height="26.22" fill="#8aaed4" stroke="#94bbe4"/><rect x="743.48" y="498.31" width="41.44" height="26.22" fill="#ddeaf5" stroke="#eefcff"/><rect x="787.74" y="498.31" width="41.44" height="26.22" fill="#93b5d8" stroke="#9ec3e8"/><rect x="832" y="498.31" width="41.44" height="26.22" fill="#a2c2df" stroke="#aed1f0"/><rect x="876.27" y="498.31" width="41.44" height="26.22" fill="#c0d7ea" stroke="#cee7fc"/><rect x="920.53" y="498.31" width="41.44" height="26.22" fill="#eff5fc" stroke="#ffffff"/><rect x="964.79" y="498.31" width="41.44" height="26.22" fill="#eff5fc" stroke="#ffffff"/><rect x="1009.06" y="498.31" width="41.44" height="26.22" fill="#eff5fc" stroke="#ffffff"/><rect x="1053.32" y="498.31" width="41.44" height="26.22" fill="#eff5fc" stroke="#ffffff"/><rect x="1097.59" y="498.31" width="41.44" height="26.22" fill="#eff5fc" stroke="#ffffff"/><rect x="1141.85" y="498.31" width="41.44" height="26.22" fill="#eff5fc" stroke="#ffffff"/><rect x="1186.11" y="498.31" width="41.44" height="26.22" fill="#eff5fc" stroke="#ffffff"/><rect x="1230.38" y="498.31" width="41.44" height="26.22" fill="#eff5fc" stroke="#ffffff"/><rect x="1274.64" y="498.31" width="41.44" height="26.22" fill="#eff5fc" stroke="#ffffff"/><rect x="1318.9" y="498.31" width="41.44" height="26.22" fill="#eff5fc" stroke="#ffffff"/><rect x="1363.17" y="498.31" width="41.44" height="26.22" fill="#eff5fc" stroke="#ffffff"/><rect x="1407.43" y="498.31" width="41.44" height="26.22" fill="#eff5fc" stroke="#ffffff"/><rect x="1451.69" y="498.31" width="41.44" height="26.22" fill="#eff5fc" stroke="#ffffff"/><rect x="1495.96" y="498.31" width="41.44" height="26.22" fill="#ddeaf5" stroke="#eefcff"/><rect x="1540.22" y="498.31" width="41.44" height="26.22" fill="#eff5fc" stroke="#ffffff"/><rect x="1584.49" y="498.31" width="41.44" height="26.22" fill="#e7f0f9" stroke="#f8ffff"/><rect x="1628.75" y="498.31" width="41.44" height="26.22" fill="#e2edf7" stroke="#f3ffff"/>
<rect x="699.21" y="527.35" width="41.44" height="26.22" fill="#91b4d8" stroke="#9cc2e8"/><rect x="743.48" y="527.35" width="41.44" height="26.22" fill="#deeaf6" stroke="#effcff"/><rect x="787.74" y="527.35" width="41.44" height="26.22" fill="#9ebfdd" stroke="#aacdee"/><rect x="832" y="527.35" width="41.44" height="26.22" fill="#9dbddc" stroke="#a9cbec"/><rect x="876.27" y="527.35" width="41.44" height="26.22" fill="#c1d7eb" stroke="#cfe7fd"/><rect x="920.53" y="527.35" width="41.44" height="26.22" fill="#eff5fc" stroke="#ffffff"/><rect x="964.79" y="527.35" width="41.44" height="26.22" fill="#eff5fc" stroke="#ffffff"/><rect x="1009.06" y="527.35" width="41.44" height="26.22" fill="#eff5fc" stroke="#ffffff"/><rect x="1053.32" y="527.35" width="41.44" height="26.22" fill="#eff5fc" stroke="#ffffff"/><rect x="1097.59" y="527.35" width="41.44" height="26.22" fill="#eff5fc" stroke="#ffffff"/><rect x="1141.85" y="527.35" width="41.44" height="26.22" fill="#eff5fc" stroke="#ffffff"/><rect x="1186.11" y="527.35" width="41.44" height="26.22" fill="#eff5fc" stroke="#ffffff"/><rect x="1230.38" y="527.35" width="41.44" height="26.22" fill="#eff5fc" stroke="#ffffff"/><rect x="1274.64" y="527.35" width="41.44" height="26.22" fill="#eff5fc" stroke="#ffffff"/><rect x="1318.9" y="527.35" width="41.44" height="26.22" fill="#eff5fc" stroke="#ffffff"/><rect x="1363.17" y="527.35" width="41.44" height="26.22" fill="#eff5fc" stroke="#ffffff"/><rect x="1407.43" y="527.35" width="41.44" height="26.22" fill="#eff5fc" stroke="#ffffff"/><rect x="1451.69" y="527.35" width="41.44" height="26.22" fill="#eff5fc" stroke="#ffffff"/><rect x="1495.96" y="527.35" width="41.44" height="26.22" fill="#deeaf6" stroke="#effcff"/><rect x="1540.22" y="527.35" width="41.44" height="26.22" fill="#eff5fc" stroke="#ffffff"/><rect x="1584.49" y="527.35" width="41.44" height="26.22" fill="#e7f0f9" stroke="#f8ffff"/><rect x="1628.75" y="527.35" width="41.44" height="26.22" fill="#e2edf7" stroke="#f3ffff"/>
<rect x="699.21" y="556.4" width="41.44" height="26.22" fill="#81a7d1" stroke="#8bb4e1"/><rect x="787.74" y="556.4" width="41.44" height="26.22" fill="#9ebedd" stroke="#aaccee"/><rect x="832" y="556.4" width="41.44" height="26.22" fill="#95b7d9" stroke="#a0c5e9"/><rect x="876.27" y="556.4" width="41.44" height="26.22" fill="#a9c7e1" stroke="#b6d6f2"/><rect x="920.53" y="556.4" width="41.44" height="26.22" fill="#f5f8fe" stroke="#ffffff"/><rect x="1495.96" y="556.4" width="41.44" height="26.22" fill="#e7f0f9" stroke="#f8ffff"/><rect x="1540.22" y="556.4" width="41.44" height="26.22" fill="#f7faff" stroke="#ffffff"/><rect x="1584.49" y="556.4" width="41.44" height="26.22" fill="#eff5fc" stroke="#ffffff"/>
<rect x="699.21" y="585.45" width="41.44" height="26.22" fill="#accae3" stroke="#b9d9f4"/><rect x="743.48" y="585.45" width="41.44" height="26.22" fill="#c5daec" stroke="#d4eafe"/><rect x="787.74" y="585.45" width="41.44" height="26.22" fill="#aecbe3" stroke="#bbdaf4"/><rect x="832" y="585.45" width="41.44" height="26.22" fill="#b2cee5" stroke="#bfddf6"/><rect x="876.27" y="585.45" width="41.44" height="26.22" fill="#caddee" stroke="#d9eeff"/><rect x="920.53" y="585.45" width="41.44" height="26.22" fill="#f0f5fc" stroke="#ffffff"/><rect x="964.79" y="585.45" width="41.44" height="26.22" fill="#f0f5fc" stroke="#ffffff"/><rect x="1009.06" y="585.45" width="41.44" height="26.22" fill="#f0f5fc" stroke="#ffffff"/><rect x="1053.32" y="585.45" width="41.44" height="26.22" fill="#f0f5fc" stroke="#ffffff"/><rect x="1097.59" y="585.45" width="41.44" height="26.22" fill="#f0f5fc" stroke="#ffffff"/><rect x="1141.85" y="585.45" width="41.44" height="26.22" fill="#f0f5fc" stroke="#ffffff"/><rect x="1186.11" y="585.45" width="41.44" height="26.22" fill="#f0f5fc" stroke="#ffffff"/><rect x="1230.38" y="585.45" width="41.44" height="26.22" fill="#f0f5fc" stroke="#ffffff"/><rect x="1274.64" y="585.45" width="41.44" height="26.22" fill="#f0f5fc" stroke="#ffffff"/><rect x="1318.9" y="585.45" width="41.44" height="26.22" fill="#f0f5fc" stroke="#ffffff"/><rect x="1363.17" y="585.45" width="41.44" height="26.22" fill="#f0f5fc" stroke="#ffffff"/><rect x="1407.43" y="585.45" width="41.44" height="26.22" fill="#f0f5fc" stroke="#ffffff"/><rect x="1451.69" y="585.45" width="41.44" height="26.22" fill="#f0f5fc" stroke="#ffffff"/><rect x="1495.96" y="585.45" width="41.44" height="26.22" fill="#e3edf7" stroke="#f4ffff"/><rect x="1540.22" y="585.45" width="41.44" height="26.22" fill="#f0f5fc" stroke="#ffffff"/><rect x="1584.49" y="585.45" width="41.44" height="26.22" fill="#e7f0f9" stroke="#f8ffff"/><rect x="1628.75" y="585.45" width="41.44" height="26.22" fill="#e3edf7" stroke="#f4ffff"/>
<rect x="699.21" y="614.49" width="41.44" height="26.22" fill="#98b9da" stroke="#a3c7ea"/><rect x="743.48" y="614.49" width="41.44" height="26.22" fill="#c2d8eb" stroke="#d1e8fd"/><rect x="787.74" y="614.49" width="41.44" height="26.22" fill="#96b8da" stroke="#a1c6ea"/><rect x="832" y="614.49" width="41.44" height="26.22" fill="#a4c3df" stroke="#b0d2f0"/><rect x="876.27" y="614.49" width="41.44" height="26.22" fill="#e1ecf7" stroke="#f2feff"/><rect x="920.53" y="614.49" width="41.44" height="26.22" fill="#eff5fc" stroke="#ffffff"/><rect x="964.79" y="614.49" width="41.44" height="26.22" fill="#f0f5fc" stroke="#ffffff"/><rect x="1009.06" y="614.49" width="41.44" height="26.22" fill="#f0f5fc" stroke="#ffffff"/><rect x="1053.32" y="614.49" width="41.44" height="26.22" fill="#f0f5fc" stroke="#ffffff"/><rect x="1097.59" y="614.49" width="41.44" height="26.22" fill="#f0f5fc" stroke="#ffffff"/><rect x="1141.85" y="614.49" width="41.44" height="26.22" fill="#f0f5fc" stroke="#ffffff"/><rect x="1186.11" y="614.49" width="41.44" height="26.22" fill="#f0f5fc" stroke="#ffffff"/><rect x="1230.38" y="614.49" width="41.44" height="26.22" fill="#f0f5fc" stroke="#ffffff"/><rect x="1274.64" y="614.49" width="41.44" height="26.22" fill="#f0f5fc" stroke="#ffffff"/><rect x="1318.9" y="614.49" width="41.44" height="26.22" fill="#f0f5fc" stroke="#ffffff"/><rect x="1363.17" y="614.49" width="41.44" height="26.22" fill="#f0f5fc" stroke="#ffffff"/><rect x="1407.43" y="614.49" width="41.44" height="26.22" fill="#f0f5fc" stroke="#ffffff"/><rect x="1451.69" y="614.49" width="41.44" height="26.22" fill="#eff5fc" stroke="#ffffff"/><rect x="1495.96" y="614.49" width="41.44" height="26.22" fill="#dfebf6" stroke="#f0fdff"/><rect x="1540.22" y="614.49" width="41.44" height="26.22" fill="#eff5fc" stroke="#ffffff"/><rect x="1584.49" y="614.49" width="41.44" height="26.22" fill="#e7f0f9" stroke="#f8ffff"/><rect x="1628.75" y="614.49" width="41.44" height="26.22" fill="#c7dbed" stroke="#d6ebff"/>
<rect x="699.21" y="643.54" width="41.44" height="26.22" fill="#7ea5cf" stroke="#87b1df"/><rect x="743.48" y="643.54" width="41.44" height="26.22" fill="#c0d7ea" stroke="#cee7fc"/><rect x="787.74" y="643.54" width="41.44" height="26.22" fill="#8bafd5" stroke="#95bce5"/><rect x="832" y="643.54" width="41.44" height="26.22" fill="#92b5d8" stroke="#9dc3e8"/><rect x="876.27" y="643.54" width="41.44" height="26.22" fill="#c0d7ea" stroke="#cee7fc"/><rect x="920.53" y="643.54" width="41.44" height="26.22" fill="#eff5fc" stroke="#ffffff"/><rect x="964.79" y="643.54" width="41.44" height="26.22" fill="#f0f5fc" stroke="#ffffff"/><rect x="1009.06" y="643.54" width="41.44" height="26.22" fill="#f0f5fc" stroke="#ffffff"/><rect x="1053.32" y="643.54" width="41.44" height="26.22" fill="#f0f5fc" stroke="#ffffff"/><rect x="1097.59" y="643.54" width="41.44" height="26.22" fill="#f0f5fc" stroke="#ffffff"/><rect x="1141.85" y="643.54" width="41.44" height="26.22" fill="#f0f5fc" stroke="#ffffff"/><rect x="1186.11" y="643.54" width="41.44" height="26.22" fill="#f0f5fc" stroke="#ffffff"/><rect x="1230.38" y="643.54" width="41.44" height="26.22" fill="#f0f5fc" stroke="#ffffff"/><rect x="1274.64" y="643.54" width="41.44" height="26.22" fill="#eff5fc" stroke="#ffffff"/><rect x="1318.9" y="643.54" width="41.44" height="26.22" fill="#eff5fc" stroke="#ffffff"/><rect x="1363.17" y="643.54" width="41.44" height="26.22" fill="#eff5fc" stroke="#ffffff"/><rect x="1407.43" y="643.54" width="41.44" height="26.22" fill="#eff5fc" stroke="#ffffff"/><rect x="1451.69" y="643.54" width="41.44" height="26.22" fill="#eff5fc" stroke="#ffffff"/><rect x="1495.96" y="643.54" width="41.44" height="26.22" fill="#ddeaf5" stroke="#eefcff"/><rect x="1540.22" y="643.54" width="41.44" height="26.22" fill="#eff5fc" stroke="#ffffff"/><rect x="1584.49" y="643.54" width="41.44" height="26.22" fill="#e7f0f9" stroke="#f8ffff"/><rect x="1628.75" y="643.54" width="41.44" height="26.22" fill="#e2edf7" stroke="#f3ffff"/>
<rect x="699.21" y="672.59" width="41.44" height="26.22" fill="#7ba3ce" stroke="#84afdd"/><rect x="743.48" y="672.59" width="41.44" height="26.22" fill="#e4eef8" stroke="#f5ffff"/><rect x="787.74" y="672.59" width="41.44" height="26.22" fill="#9cbddc" stroke="#a8cbec"/><rect x="832" y="672.59" width="41.44" height="26.22" fill="#8cb0d5" stroke="#96bde5"/><rect x="876.27" y="672.59" width="41.44" height="26.22" fill="#a5c4e0" stroke="#b1d3f1"/><rect x="920.53" y="672.59" width="41.44" height="26.22" fill="#f7faff" stroke="#ffffff"/><rect x="1274.64" y="672.59" width="41.44" height="26.22" fill="#f3f7fd" stroke="#ffffff"/><rect x="1318.9" y="672.59" width="41.44" height="26.22" fill="#f5f8fe" stroke="#ffffff"/><rect x="1407.43" y="672.59" width="41.44" height="26.22" fill="#f7faff" stroke="#ffffff"/><rect x="1451.69" y="672.59" width="41.44" height="26.22" fill="#f7faff" stroke="#ffffff"/><rect x="1495.96" y="672.59" width="41.44" height="26.22" fill="#e4eef8" stroke="#f5ffff"/><rect x="1540.22" y="672.59" width="41.44" height="26.22" fill="#f2f7fd" stroke="#ffffff"/><rect x="1584.49" y="672.59" width="41.44" height="26.22" fill="#eff5fc" stroke="#ffffff"/><rect x="1628.75" y="672.59" width="41.44" height="26.22" fill="#ebf3fb" stroke="#fdffff"/>
<rect x="699.21" y="701.63" width="41.44" height="26.22" fill="#9fbfdd" stroke="#abcdee"/><rect x="743.48" y="701.63" width="41.44" height="26.22" fill="#e1ecf7" stroke="#f2feff"/><rect x="787.74" y="701.63" width="41.44" height="26.22" fill="#9dbedc" stroke="#a9ccec"/><rect x="832" y="701.63" width="41.44" height="26.22" fill="#a9c7e2" stroke="#b6d6f3"/><rect x="876.27" y="701.63" width="41.44" height="26.22" fill="#c7dced" stroke="#d6ecff"/><rect x="920.53" y="701.63" width="41.44" height="26.22" fill="#f0f5fc" stroke="#ffffff"/><rect x="964.79" y="701.63" width="41.44" height="26.22" fill="#f0f5fc" stroke="#ffffff"/><rect x="1009.06" y="701.63" width="41.44" height="26.22" fill="#f0f5fc" stroke="#ffffff"/><rect x="1053.32" y="701.63" width="41.44" height="26.22" fill="#f0f5fc" stroke="#ffffff"/><rect x="1097.59" y="701.63" width="41.44" height="26.22" fill="#f0f5fc" stroke="#ffffff"/><rect x="1141.85" y="701.63" width="41.44" height="26.22" fill="#f0f5fc" stroke="#ffffff"/><rect x="1186.11" y="701.63" width="41.44" height="26.22" fill="#f0f5fc" stroke="#ffffff"/><rect x="1230.38" y="701.63" width="41.44" height="26.22" fill="#f0f5fc" stroke="#ffffff"/><rect x="1274.64" y="701.63" width="41.44" height="26.22" fill="#f0f5fc" stroke="#ffffff"/><rect x="1318.9" y="701.63" width="41.44" height="26.22" fill="#f0f5fc" stroke="#ffffff"/><rect x="1363.17" y="701.63" width="41.44" height="26.22" fill="#f0f5fc" stroke="#ffffff"/><rect x="1407.43" y="701.63" width="41.44" height="26.22" fill="#f0f5fc" stroke="#ffffff"/><rect x="1451.69" y="701.63" width="41.44" height="26.22" fill="#f0f5fc" stroke="#ffffff"/><rect x="1495.96" y="701.63" width="41.44" height="26.22" fill="#c4d9ec" stroke="#d3e9fe"/><rect x="1540.22" y="701.63" width="41.44" height="26.22" fill="#f0f5fc" stroke="#ffffff"/><rect x="1584.49" y="701.63" width="41.44" height="26.22" fill="#e7f0f9" stroke="#f8ffff"/><rect x="1628.75" y="701.63" width="41.44" height="26.22" fill="#e2edf7" stroke="#f3ffff"/>
<rect x="699.21" y="730.68" width="41.44" height="26.22" fill="#7fa6d0" stroke="#89b2e0"/><rect x="743.48" y="730.68" width="41.44" height="26.22" fill="#deeaf5" stroke="#effcff"/><rect x="787.74" y="730.68" width="41.44" height="26.22" fill="#90b3d7" stroke="#9bc0e7"/><rect x="832" y="730.68" width="41.44" height="26.22" fill="#8bafd5" stroke="#95bce5"/><rect x="876.27" y="730.68" width="41.44" height="26.22" fill="#a2c2df" stroke="#aed1f0"/><rect x="920.53" y="730.68" width="41.44" height="26.22" fill="#eff5fc" stroke="#ffffff"/><rect x="964.79" y="730.68" width="41.44" height="26.22" fill="#eff5fc" stroke="#ffffff"/><rect x="1009.06" y="730.68" width="41.44" height="26.22" fill="#eff5fc" stroke="#ffffff"/><rect x="1053.32" y="730.68" width="41.44" height="26.22" fill="#eff5fc" stroke="#ffffff"/><rect x="1097.59" y="730.68" width="41.44" height="26.22" fill="#eff5fc" stroke="#ffffff"/><rect x="1141.85" y="730.68" width="41.44" height="26.22" fill="#eff5fc" stroke="#ffffff"/><rect x="1186.11" y="730.68" width="41.44" height="26.22" fill="#eff5fc" stroke="#ffffff"/><rect x="1230.38" y="730.68" width="41.44" height="26.22" fill="#eff5fc" stroke="#ffffff"/><rect x="1274.64" y="730.68" width="41.44" height="26.22" fill="#eff5fc" stroke="#ffffff"/><rect x="1318.9" y="730.68" width="41.44" height="26.22" fill="#eff5fc" stroke="#ffffff"/><rect x="1363.17" y="730.68" width="41.44" height="26.22" fill="#eff5fc" stroke="#ffffff"/><rect x="1407.43" y="730.68" width="41.44" height="26.22" fill="#eff5fc" stroke="#ffffff"/><rect x="1451.69" y="730.68" width="41.44" height="26.22" fill="#eff5fc" stroke="#ffffff"/><rect x="1495.96" y="730.68" width="41.44" height="26.22" fill="#c1d7eb" stroke="#cfe7fd"/><rect x="1540.22" y="730.68" width="41.44" height="26.22" fill="#eff5fc" stroke="#ffffff"/><rect x="1584.49" y="730.68" width="41.44" height="26.22" fill="#e7f0f9" stroke="#f8ffff"/><rect x="1628.75" y="730.68" width="41.44" height="26.22" fill="#e2edf7" stroke="#f3ffff"/>
<rect x="699.21" y="759.73" width="41.44" height="26.22" fill="#8aafd5" stroke="#94bce5"/><rect x="743.48" y="759.73" width="41.44" height="26.22" fill="#b3cfe6" stroke="#c0dff7"/><rect x="787.74" y="759.73" width="41.44" height="26.22" fill="#88add4" stroke="#92bae4"/><rect x="832" y="759.73" width="41.44" height="26.22" fill="#9dbddc" stroke="#a9cbec"/><rect x="876.27" y="759.73" width="41.44" height="26.22" fill="#abc9e2" stroke="#b8d8f3"/><rect x="920.53" y="759.73" width="41.44" height="26.22" fill="#eff5fc" stroke="#ffffff"/><rect x="964.79" y="759.73" width="41.44" height="26.22" fill="#f0f5fc" stroke="#ffffff"/><rect x="1009.06" y="759.73" width="41.44" height="26.22" fill="#f0f5fc" stroke="#ffffff"/><rect x="1053.32" y="759.73" width="41.44" height="26.22" fill="#f0f5fc" stroke="#ffffff"/><rect x="1097.59" y="759.73" width="41.44" height="26.22" fill="#f0f5fc" stroke="#ffffff"/><rect x="1141.85" y="759.73" width="41.44" height="26.22" fill="#f0f5fc" stroke="#ffffff"/><rect x="1186.11" y="759.73" width="41.44" height="26.22" fill="#f0f5fc" stroke="#ffffff"/><rect x="1230.38" y="759.73" width="41.44" height="26.22" fill="#f0f5fc" stroke="#ffffff"/><rect x="1274.64" y="759.73" width="41.44" height="26.22" fill="#eff5fc" stroke="#ffffff"/><rect x="1318.9" y="759.73" width="41.44" height="26.22" fill="#eff5fc" stroke="#ffffff"/><rect x="1363.17" y="759.73" width="41.44" height="26.22" fill="#eff5fc" stroke="#ffffff"/><rect x="1407.43" y="759.73" width="41.44" height="26.22" fill="#eff5fc" stroke="#ffffff"/><rect x="1451.69" y="759.73" width="41.44" height="26.22" fill="#eff5fc" stroke="#ffffff"/><rect x="1495.96" y="759.73" width="41.44" height="26.22" fill="#dfebf6" stroke="#f0fdff"/><rect x="1540.22" y="759.73" width="41.44" height="26.22" fill="#f0f5fc" stroke="#ffffff"/><rect x="1584.49" y="759.73" width="41.44" height="26.22" fill="#e7f0f9" stroke="#f8ffff"/><rect x="1628.75" y="759.73" width="41.44" height="26.22" fill="#e2edf7" stroke="#f3ffff"/>
<rect x="699.21" y="788.77" width="41.44" height="26.22" fill="#9dbedc" stroke="#a9ccec"/><rect x="743.48" y="788.77" width="41.44" height="26.22" fill="#a7c6e1" stroke="#b4d5f2"/><rect x="787.74" y="788.77" width="41.44" height="26.22" fill="#9fbfdd" stroke="#abcdee"/><rect x="832" y="788.77" width="41.44" height="26.22" fill="#a1c1de" stroke="#adcfef"/><rect x="876.27" y="788.77" width="41.44" height="26.22" fill="#bdd5e9" stroke="#cbe5fa"/><rect x="920.53" y="788.77" width="41.44" height="26.22" fill="#f0f5fc" stroke="#ffffff"/><rect x="964.79" y="788.77" width="41.44" height="26.22" fill="#f0f5fc" stroke="#ffffff"/><rect x="1009.06" y="788.77" width="41.44" height="26.22" fill="#f0f5fc" stroke="#ffffff"/><rect x="1053.32" y="788.77" width="41.44" height="26.22" fill="#f0f5fc" stroke="#ffffff"/><rect x="1097.59" y="788.77" width="41.44" height="26.22" fill="#f0f5fc" stroke="#ffffff"/><rect x="1141.85" y="788.77" width="41.44" height="26.22" fill="#f0f5fc" stroke="#ffffff"/><rect x="1186.11" y="788.77" width="41.44" height="26.22" fill="#f0f5fc" stroke="#ffffff"/><rect x="1230.38" y="788.77" width="41.44" height="26.22" fill="#f0f5fc" stroke="#ffffff"/><rect x="1274.64" y="788.77" width="41.44" height="26.22" fill="#f0f5fc" stroke="#ffffff"/><rect x="1318.9" y="788.77" width="41.44" height="26.22" fill="#f0f5fc" stroke="#ffffff"/><rect x="1363.17" y="788.77" width="41.44" height="26.22" fill="#f0f5fc" stroke="#ffffff"/><rect x="1407.43" y="788.77" width="41.44" height="26.22" fill="#f0f5fc" stroke="#ffffff"/><rect x="1451.69" y="788.77" width="41.44" height="26.22" fill="#f0f5fc" stroke="#ffffff"/><rect x="1495.96" y="788.77" width="41.44" height="26.22" fill="#e4eef8" stroke="#f5ffff"/><rect x="1540.22" y="788.77" width="41.44" height="26.22" fill="#f0f5fc" stroke="#ffffff"/><rect x="1584.49" y="788.77" width="41.44" height="26.22" fill="#e7f0f9" stroke="#f8ffff"/><rect x="1628.75" y="788.77" width="41.44" height="26.22" fill="#e3edf7" stroke="#f4ffff"/>
<rect x="699.21" y="817.82" width="41.44" height="26.22" fill="#5988c0" stroke="#6092ce"/><rect x="743.48" y="817.82" width="41.44" height="26.22" fill="#e2edf7" stroke="#f3ffff"/><rect x="787.74" y="817.82" width="41.44" height="26.22" fill="#6f99c9" stroke="#77a4d8"/><rect x="832" y="817.82" width="41.44" height="26.22" fill="#6894c6" stroke="#709fd5"/><rect x="876.27" y="817.82" width="41.44" height="26.22" fill="#95b7d9" stroke="#a0c5e9"/><rect x="920.53" y="817.82" width="41.44" height="26.22" fill="#f1f6fd" stroke="#ffffff"/>
<rect x="699.21" y="846.87" width="41.44" height="26.22" fill="#5282bd" stroke="#588ccb"/><rect x="743.48" y="846.87" width="41.44" height="26.22" fill="#cddfef" stroke="#dcf0ff"/><rect x="787.74" y="846.87" width="41.44" height="26.22" fill="#6793c6" stroke="#6f9ed5"/><rect x="832" y="846.87" width="41.44" height="26.22" fill="#608dc3" stroke="#6798d2"/><rect x="876.27" y="846.87" width="41.44" height="26.22" fill="#92b5d8" stroke="#9dc3e8"/>
</g>
<path class="g" d="M697.8 3.1H1671.6M697.8 32.15H1671.6M697.8 61.19H1671.6M697.8 90.24H1671.6M697.8 119.29H963.38M1007.65 119.29H1671.6M697.8 148.33H1671.6M697.8 177.38H1671.6M697.8 206.43H1671.6M697.8 235.47H1671.6M697.8 264.52H1671.6M697.8 293.57H1671.6M697.8 322.61H1671.6M697.8 351.66H1671.6M697.8 380.71H1671.6M697.8 409.75H1671.6M697.8 438.8H1671.6M697.8 467.85H1671.6M697.8 496.89H1671.6M697.8 525.94H1671.6M697.8 554.99H1671.6M697.8 584.03H1671.6M697.8 613.08H1671.6M697.8 642.13H1671.6M697.8 671.17H1671.6M697.8 700.22H1671.6M697.8 729.27H1671.6M697.8 758.31H1671.6M697.8 787.36H1671.6M697.8 816.41H1671.6M697.8 845.45H963.38M697.8 874.5H919.12M697.8 3.1V874.5M742.06 3.1V874.5M786.33 3.1V874.5M830.59 3.1V874.5M874.85 3.1V874.5M919.12 3.1V874.5M963.38 3.1V845.45M1007.65 3.1V119.29M1007.65 148.33V322.61M1007.65 351.66V554.99M1007.65 584.03V671.17M1007.65 700.22V816.41M1051.91 3.1V119.29M1051.91 148.33V322.61M1051.91 351.66V554.99M1051.91 584.03V671.17M1051.91 700.22V816.41M1096.17 3.1V119.29M1096.17 148.33V322.61M1096.17 351.66V554.99M1096.17 584.03V671.17M1096.17 700.22V816.41M1140.44 3.1V119.29M1140.44 148.33V322.61M1140.44 351.66V554.99M1140.44 584.03V671.17M1140.44 700.22V816.41M1184.7 3.1V119.29M1184.7 148.33V322.61M1184.7 351.66V554.99M1184.7 584.03V671.17M1184.7 700.22V816.41M1228.96 3.1V322.61M1228.96 351.66V554.99M1228.96 584.03V671.17M1228.96 700.22V816.41M1273.23 3.1V322.61M1273.23 351.66V554.99M1273.23 584.03V816.41M1317.49 3.1V322.61M1317.49 351.66V554.99M1317.49 584.03V816.41M1361.75 3.1V322.61M1361.75 351.66V554.99M1361.75 584.03V816.41M1406.02 3.1V322.61M1406.02 351.66V554.99M1406.02 584.03V816.41M1450.28 3.1V322.61M1450.28 351.66V554.99M1450.28 584.03V816.41M1494.55 3.1V322.61M1494.55 351.66V816.41M1538.81 3.1V322.61M1538.81 351.66V816.41M1583.07 3.1V322.61M1583.07 351.66V816.41M1627.34 3.1V322.61M1627.34 351.66V816.41M1671.6 3.1V322.61M1671.6 351.66V554.99M1671.6 584.03V816.41"/>
<g class="c" transform="matrix(1 0.001 0 1.12 0 0)">
<text x="719.13" y="21.48">-1.80</text><text x="763.4" y="21.44">-3.22</text><text x="807.66" y="21.4">-1.11</text><text x="851.92" y="21.36">-2.89</text><text x="896.19" y="21.32">-3.55</text><text x="940.45" y="21.28">-4.09</text><text x="984.71" y="21.24">-4.09</text><text x="1028.98" y="21.2">-4.09</text><text x="1073.24" y="21.16">-4.09</text><text x="1117.5" y="21.12">-4.10</text><text x="1161.77" y="21.08">-4.09</text><text x="1206.03" y="21.04">-4.09</text><text x="1250.3" y="21">-4.09</text><text x="1294.56" y="20.96">-4.09</text><text x="1338.82" y="20.92">-4.09</text><text x="1383.09" y="20.88">-4.09</text><text x="1427.35" y="20.84">-4.09</text><text x="1471.61" y="20.81">-4.09</text><text x="1515.88" y="20.77">-3.24</text><text x="1560.14" y="20.73">-4.09</text><text x="1604.4" y="20.69">-3.56</text><text x="1648.67" y="20.65">-3.27</text>
<text x="719.13" y="47.41">0.33</text><text x="763.4" y="47.37">-2.96</text><text x="807.66" y="47.33">0.04</text><text x="851.92" y="47.29">-0.48</text><text x="896.19" y="47.25">-2.99</text><text x="940.45" y="47.21">-4.08</text><text x="984.71" y="47.17">-4.08</text><text x="1028.98" y="47.13">-4.08</text><text x="1073.24" y="47.1">-4.08</text><text x="1117.5" y="47.06">-4.08</text><text x="1161.77" y="47.02">-4.08</text><text x="1206.03" y="46.98">-4.08</text><text x="1250.3" y="46.94">-4.08</text><text x="1294.56" y="46.9">-4.08</text><text x="1338.82" y="46.86">-4.08</text><text x="1383.09" y="46.82">-4.08</text><text x="1427.35" y="46.78">-4.08</text><text x="1471.61" y="46.74">-4.08</text><text x="1515.88" y="46.7">-2.98</text><text x="1560.14" y="46.66">-4.08</text><text x="1604.4" y="46.62">-3.54</text><text x="1648.67" y="46.58">-3.23</text>
<text x="719.13" y="73.35">-0.06</text><text x="763.4" y="73.31">-1.18</text><text x="807.66" y="73.27">-1.97</text><text x="851.92" y="73.23">-0.84</text><text x="896.19" y="73.19">-1.25</text><text x="940.45" y="73.15">-4.08</text><text x="984.71" y="73.11">-4.09</text><text x="1028.98" y="73.07">-4.09</text><text x="1073.24" y="73.03">-4.09</text><text x="1117.5" y="72.99">-4.09</text><text x="1161.77" y="72.95">-4.09</text><text x="1206.03" y="72.91">-4.09</text><text x="1250.3" y="72.87">-4.08</text><text x="1294.56" y="72.83">-4.08</text><text x="1338.82" y="72.79">-4.08</text><text x="1383.09" y="72.75">-4.08</text><text x="1427.35" y="72.71">-4.08</text><text x="1471.61" y="72.67">-4.08</text><text x="1515.88" y="72.63">-1.21</text><text x="1560.14" y="72.6">-4.08</text><text x="1604.4" y="72.56">-3.54</text><text x="1648.67" y="72.52">-3.24</text>
<text x="719.13" y="99.28">-1.55</text><text x="763.4" y="99.24">-3.36</text><text x="807.66" y="99.2">-2.27</text><text x="851.92" y="99.16">-1.76</text><text x="896.19" y="99.12">-3.82</text><text x="940.45" y="99.08">-4.09</text><text x="1028.98" y="99">-4.09</text><text x="1073.24" y="98.96">-4.08</text><text x="1117.5" y="98.92">-4.08</text><text x="1161.77" y="98.89">-4.08</text><text x="1206.03" y="98.85">-4.08</text><text x="1250.3" y="98.81">-4.08</text><text x="1294.56" y="98.77">-4.09</text><text x="1338.82" y="98.73">-4.09</text><text x="1383.09" y="98.69">-4.09</text><text x="1427.35" y="98.65">-4.09</text><text x="1471.61" y="98.61">-4.09</text><text x="1515.88" y="98.57">-3.26</text><text x="1560.14" y="98.53">-4.09</text><text x="1604.4" y="98.49">-3.57</text><text x="1648.67" y="98.45">-3.28</text>
<text x="719.13" y="125.22">1.95</text><text x="763.4" y="125.18">-2.98</text><text x="807.66" y="125.14">1.25</text><text x="851.92" y="125.1">-0.15</text><text x="896.19" y="125.06">-2.94</text><text x="940.45" y="125.02">-4.12</text><text x="1250.3" y="124.74">-4.56</text><text x="1294.56" y="124.7">-4.33</text><text x="1338.82" y="124.66">-4.25</text><text x="1383.09" y="124.62">-4.22</text><text x="1427.35" y="124.58">-4.18</text><text x="1471.61" y="124.54">-4.25</text><text x="1515.88" y="124.5">-3.07</text><text x="1560.14" y="124.46">-4.17</text><text x="1604.4" y="124.42">-3.58</text><text x="1648.67" y="124.39">-3.28</text>
<text x="719.13" y="151.15">-0.07</text><text x="763.4" y="151.11">-3.03</text><text x="807.66" y="151.07">-0.44</text><text x="851.92" y="151.03">-0.86</text><text x="896.19" y="150.99">-1.26</text><text x="940.45" y="150.95">-4.08</text><text x="984.71" y="150.91">-4.09</text><text x="1028.98" y="150.87">-4.09</text><text x="1073.24" y="150.83">-4.10</text><text x="1117.5" y="150.79">-4.09</text><text x="1161.77" y="150.75">-4.09</text><text x="1206.03" y="150.71">-4.09</text><text x="1250.3" y="150.68">-4.09</text><text x="1294.56" y="150.64">-4.09</text><text x="1338.82" y="150.6">-4.09</text><text x="1383.09" y="150.56">-4.09</text><text x="1427.35" y="150.52">-4.09</text><text x="1471.61" y="150.48">-4.09</text><text x="1515.88" y="150.44">-1.21</text><text x="1560.14" y="150.4">-4.08</text><text x="1604.4" y="150.36">-3.54</text><text x="1648.67" y="150.32">-3.24</text>
<text x="719.13" y="177.08">-2.63</text><text x="763.4" y="177.04">-3.84</text><text x="807.66" y="177.01">-2.65</text><text x="851.92" y="176.97">-3.44</text><text x="896.19" y="176.93">-2.38</text><text x="940.45" y="176.89">-4.12</text><text x="984.71" y="176.85">-4.10</text><text x="1028.98" y="176.81">-4.10</text><text x="1073.24" y="176.77">-4.10</text><text x="1117.5" y="176.73">-4.10</text><text x="1161.77" y="176.69">-4.10</text><text x="1206.03" y="176.65">-4.10</text><text x="1250.3" y="176.61">-4.11</text><text x="1294.56" y="176.57">-4.10</text><text x="1338.82" y="176.53">-4.10</text><text x="1383.09" y="176.49">-4.11</text><text x="1427.35" y="176.45">-4.11</text><text x="1471.61" y="176.41">-4.11</text><text x="1515.88" y="176.37">-3.73</text><text x="1560.14" y="176.33">-4.12</text><text x="1604.4" y="176.29">-3.60</text><text x="1648.67" y="176.25">-3.36</text>
<text x="719.13" y="203.02">1.56</text><text x="763.4" y="202.98">-2.95</text><text x="807.66" y="202.94">1.10</text><text x="851.92" y="202.9">-1.29</text><text x="896.19" y="202.86">-0.17</text><text x="940.45" y="202.82">-4.08</text><text x="984.71" y="202.78">-4.08</text><text x="1028.98" y="202.74">-4.08</text><text x="1073.24" y="202.7">-4.08</text><text x="1117.5" y="202.66">-4.08</text><text x="1161.77" y="202.62">-4.08</text><text x="1206.03" y="202.58">-4.08</text><text x="1250.3" y="202.54">-4.08</text><text x="1294.56" y="202.5">-4.08</text><text x="1338.82" y="202.47">-4.08</text><text x="1383.09" y="202.43">-4.08</text><text x="1427.35" y="202.39">-4.08</text><text x="1471.61" y="202.35">-4.08</text><text x="1515.88" y="202.31">-2.96</text><text x="1560.14" y="202.27">-4.08</text><text x="1604.4" y="202.23">-3.54</text><text x="1648.67" y="202.19">-3.23</text>
<text x="719.13" y="228.95">-1.70</text><text x="763.4" y="228.91">-3.41</text><text x="807.66" y="228.87">-1.46</text><text x="851.92" y="228.83">-1.89</text><text x="896.19" y="228.8">-3.86</text><text x="940.45" y="228.76">-4.10</text><text x="984.71" y="228.72">-4.10</text><text x="1028.98" y="228.68">-4.10</text><text x="1073.24" y="228.64">-4.10</text><text x="1117.5" y="228.6">-4.11</text><text x="1161.77" y="228.56">-4.10</text><text x="1206.03" y="228.52">-4.10</text><text x="1250.3" y="228.48">-4.11</text><text x="1294.56" y="228.44">-4.10</text><text x="1338.82" y="228.4">-4.10</text><text x="1383.09" y="228.36">-4.10</text><text x="1427.35" y="228.32">-4.10</text><text x="1471.61" y="228.28">-4.10</text><text x="1515.88" y="228.24">-3.44</text><text x="1560.14" y="228.2">-4.10</text><text x="1604.4" y="228.16">-3.57</text><text x="1648.67" y="228.12">-3.30</text>
<text x="719.13" y="254.89">2.16</text><text x="763.4" y="254.85">-2.93</text><text x="807.66" y="254.81">1.62</text><text x="851.92" y="254.77">-0.20</text><text x="896.19" y="254.73">-1.08</text><text x="940.45" y="254.69">-4.08</text><text x="984.71" y="254.65">-4.09</text><text x="1028.98" y="254.61">-4.09</text><text x="1073.24" y="254.57">-4.09</text><text x="1117.5" y="254.53">-4.09</text><text x="1161.77" y="254.49">-4.09</text><text x="1206.03" y="254.45">-4.09</text><text x="1250.3" y="254.41">-4.08</text><text x="1294.56" y="254.37">-4.08</text><text x="1338.82" y="254.33">-4.08</text><text x="1383.09" y="254.29">-4.08</text><text x="1427.35" y="254.26">-4.08</text><text x="1471.61" y="254.22">-4.08</text><text x="1515.88" y="254.18">-2.94</text><text x="1560.14" y="254.14">-4.08</text><text x="1604.4" y="254.1">-3.54</text><text x="1648.67" y="254.06">-3.23</text>
<text x="719.13" y="280.82">0.41</text><text x="763.4" y="280.78">-3.06</text><text x="807.66" y="280.74">-0.27</text><text x="851.92" y="280.7">-0.56</text><text x="896.19" y="280.66">-1.39</text><text x="940.45" y="280.62">-4.08</text><text x="984.71" y="280.59">-4.08</text><text x="1028.98" y="280.55">-4.08</text><text x="1073.24" y="280.51">-4.08</text><text x="1117.5" y="280.47">-4.08</text><text x="1161.77" y="280.43">-4.08</text><text x="1206.03" y="280.39">-4.08</text><text x="1250.3" y="280.35">-4.08</text><text x="1294.56" y="280.31">-4.08</text><text x="1338.82" y="280.27">-4.09</text><text x="1383.09" y="280.23">-4.09</text><text x="1427.35" y="280.19">-4.08</text><text x="1471.61" y="280.15">-4.08</text><text x="1515.88" y="280.11">-1.23</text><text x="1560.14" y="280.07">-4.08</text><text x="1604.4" y="280.03">-3.54</text><text x="1648.67" y="279.99">-3.24</text>
<text x="719.13" y="306.76">0.53</text><text x="763.4" y="306.72">-1.38</text><text x="807.66" y="306.68">-1.57</text><text x="851.92" y="306.64">-1.63</text><text x="896.19" y="306.6">-1.73</text><text x="940.45" y="306.56">-4.08</text>
<text x="719.13" y="332.69">-1.13</text><text x="763.4" y="332.65">-0.69</text><text x="807.66" y="332.61">-1.31</text><text x="851.92" y="332.57">-2.09</text><text x="896.19" y="332.53">-4.00</text><text x="940.45" y="332.49">-4.10</text><text x="984.71" y="332.45">-4.09</text><text x="1028.98" y="332.41">-4.09</text><text x="1073.24" y="332.38">-4.09</text><text x="1117.5" y="332.34">-4.09</text><text x="1161.77" y="332.3">-4.09</text><text x="1206.03" y="332.26">-4.09</text><text x="1250.3" y="332.22">-4.10</text><text x="1294.56" y="332.18">-4.10</text><text x="1338.82" y="332.14">-4.10</text><text x="1383.09" y="332.1">-4.10</text><text x="1427.35" y="332.06">-4.10</text><text x="1471.61" y="332.02">-4.10</text><text x="1515.88" y="331.98">-3.44</text><text x="1560.14" y="331.94">-4.10</text><text x="1604.4" y="331.9">-3.57</text><text x="1648.67" y="331.86">-3.30</text>
<text x="719.13" y="358.63">0.56</text><text x="763.4" y="358.59">-0.29</text><text x="807.66" y="358.55">0.39</text><text x="851.92" y="358.51">-0.57</text><text x="896.19" y="358.47">-3.20</text><text x="940.45" y="358.43">-4.08</text><text x="984.71" y="358.39">-4.08</text><text x="1028.98" y="358.35">-4.08</text><text x="1073.24" y="358.31">-4.08</text><text x="1117.5" y="358.27">-4.08</text><text x="1161.77" y="358.23">-4.08</text><text x="1206.03" y="358.19">-4.09</text><text x="1250.3" y="358.15">-4.09</text><text x="1294.56" y="358.11">-4.09</text><text x="1338.82" y="358.07">-4.09</text><text x="1383.09" y="358.03">-4.09</text><text x="1427.35" y="357.99">-4.09</text><text x="1471.61" y="357.95">-4.09</text><text x="1515.88" y="357.91">-3.10</text><text x="1560.14" y="357.87">-4.09</text><text x="1604.4" y="357.84">-3.54</text><text x="1648.67" y="357.8">-3.24</text>
<text x="719.13" y="384.56">1.29</text><text x="763.4" y="384.52">-3.01</text><text x="807.66" y="384.48">0.84</text><text x="851.92" y="384.44">-0.10</text><text x="896.19" y="384.4">-0.26</text><text x="940.45" y="384.36">-4.08</text><text x="984.71" y="384.32">-4.08</text><text x="1028.98" y="384.28">-4.08</text><text x="1073.24" y="384.24">-4.08</text><text x="1117.5" y="384.2">-4.08</text><text x="1161.77" y="384.17">-4.08</text><text x="1206.03" y="384.13">-4.08</text><text x="1250.3" y="384.09">-4.08</text><text x="1294.56" y="384.05">-4.08</text><text x="1338.82" y="384.01">-4.08</text><text x="1383.09" y="383.97">-4.08</text><text x="1427.35" y="383.93">-4.08</text><text x="1471.61" y="383.89">-4.08</text><text x="1515.88" y="383.85">-3.00</text><text x="1560.14" y="383.81">-4.08</text><text x="1604.4" y="383.77">-3.54</text><text x="1648.67" y="383.73">-3.23</text>
<text x="719.13" y="410.49">1.10</text><text x="763.4" y="410.46">-3.03</text><text x="807.66" y="410.42">1.28</text><text x="851.92" y="410.38">-0.98</text><text x="896.19" y="410.34">-1.30</text><text x="940.45" y="410.3">-4.08</text><text x="984.71" y="410.26">-4.08</text><text x="1028.98" y="410.22">-4.08</text><text x="1073.24" y="410.18">-4.08</text><text x="1117.5" y="410.14">-4.08</text><text x="1161.77" y="410.1">-4.08</text><text x="1206.03" y="410.06">-4.08</text><text x="1250.3" y="410.02">-4.08</text><text x="1294.56" y="409.98">-4.08</text><text x="1338.82" y="409.94">-4.08</text><text x="1383.09" y="409.9">-4.08</text><text x="1427.35" y="409.86">-4.08</text><text x="1471.61" y="409.82">-4.08</text><text x="1515.88" y="409.78">-3.05</text><text x="1560.14" y="409.74">-4.08</text><text x="1604.4" y="409.7">-3.54</text><text x="1648.67" y="409.66">-3.24</text>
<text x="719.13" y="436.43">-1.12</text><text x="763.4" y="436.39">-3.56</text><text x="807.66" y="436.35">-1.75</text><text x="851.92" y="436.31">-2.27</text><text x="896.19" y="436.27">0.07</text><text x="940.45" y="436.23">-4.10</text><text x="984.71" y="436.19">-4.09</text><text x="1028.98" y="436.15">-4.09</text><text x="1073.24" y="436.11">-4.09</text><text x="1117.5" y="436.07">-4.09</text><text x="1161.77" y="436.03">-4.09</text><text x="1206.03" y="435.99">-4.09</text><text x="1250.3" y="435.96">-4.10</text><text x="1294.56" y="435.92">-4.10</text><text x="1338.82" y="435.88">-4.11</text><text x="1383.09" y="435.84">-4.10</text><text x="1427.35" y="435.8">-4.10</text><text x="1471.61" y="435.76">-4.10</text><text x="1515.88" y="435.72">-3.45</text><text x="1560.14" y="435.68">-4.10</text><text x="1604.4" y="435.64">-3.58</text><text x="1648.67" y="435.6">-3.30</text>
<text x="719.13" y="462.36">2.74</text><text x="763.4" y="462.32">-2.93</text><text x="807.66" y="462.28">2.08</text><text x="851.92" y="462.25">0.93</text><text x="896.19" y="462.21">-1.09</text><text x="940.45" y="462.17">-4.08</text><text x="984.71" y="462.13">-4.08</text><text x="1028.98" y="462.09">-4.08</text><text x="1073.24" y="462.05">-4.08</text><text x="1117.5" y="462.01">-4.08</text><text x="1161.77" y="461.97">-4.08</text><text x="1206.03" y="461.93">-4.08</text><text x="1250.3" y="461.89">-4.08</text><text x="1294.56" y="461.85">-4.08</text><text x="1338.82" y="461.81">-4.08</text><text x="1383.09" y="461.77">-4.08</text><text x="1427.35" y="461.73">-4.08</text><text x="1471.61" y="461.69">-4.08</text><text x="1515.88" y="461.65">-2.94</text><text x="1560.14" y="461.61">-4.08</text><text x="1604.4" y="461.57">-3.54</text><text x="1648.67" y="461.53">-3.23</text>
<text x="719.13" y="488.3">2.17</text><text x="763.4" y="488.26">-2.96</text><text x="807.66" y="488.22">1.24</text><text x="851.92" y="488.18">1.35</text><text x="896.19" y="488.14">-1.14</text><text x="940.45" y="488.1">-4.08</text><text x="984.71" y="488.06">-4.08</text><text x="1028.98" y="488.02">-4.08</text><text x="1073.24" y="487.98">-4.08</text><text x="1117.5" y="487.94">-4.08</text><text x="1161.77" y="487.9">-4.08</text><text x="1206.03" y="487.86">-4.08</text><text x="1250.3" y="487.82">-4.08</text><text x="1294.56" y="487.78">-4.08</text><text x="1338.82" y="487.75">-4.08</text><text x="1383.09" y="487.71">-4.08</text><text x="1427.35" y="487.67">-4.08</text><text x="1471.61" y="487.63">-4.08</text><text x="1515.88" y="487.59">-2.97</text><text x="1560.14" y="487.55">-4.08</text><text x="1604.4" y="487.51">-3.54</text><text x="1648.67" y="487.47">-3.23</text>
<text x="719.13" y="514.23">3.40</text><text x="807.66" y="514.15">1.26</text><text x="851.92" y="514.11">1.91</text><text x="896.19" y="514.07">0.46</text><text x="940.45" y="514.04">-4.41</text><text x="1515.88" y="513.52">-3.57</text><text x="1560.14" y="513.48">-4.56</text><text x="1604.4" y="513.44">-4.08</text>
<text x="719.13" y="540.17">0.18</text><text x="763.4" y="540.13">-1.41</text><text x="807.66" y="540.09">0.09</text><text x="851.92" y="540.05">-0.18</text><text x="896.19" y="540.01">-1.70</text><text x="940.45" y="539.97">-4.09</text><text x="984.71" y="539.93">-4.10</text><text x="1028.98" y="539.89">-4.09</text><text x="1073.24" y="539.85">-4.09</text><text x="1117.5" y="539.81">-4.10</text><text x="1161.77" y="539.77">-4.10</text><text x="1206.03" y="539.73">-4.09</text><text x="1250.3" y="539.69">-4.10</text><text x="1294.56" y="539.65">-4.09</text><text x="1338.82" y="539.61">-4.09</text><text x="1383.09" y="539.57">-4.09</text><text x="1427.35" y="539.54">-4.09</text><text x="1471.61" y="539.5">-4.10</text><text x="1515.88" y="539.46">-3.28</text><text x="1560.14" y="539.42">-4.09</text><text x="1604.4" y="539.38">-3.56</text><text x="1648.67" y="539.34">-3.27</text>
<text x="719.13" y="566.1">1.72</text><text x="763.4" y="566.06">-1.22</text><text x="807.66" y="566.02">1.81</text><text x="851.92" y="565.98">0.80</text><text x="896.19" y="565.94">-3.15</text><text x="940.45" y="565.9">-4.08</text><text x="984.71" y="565.86">-4.09</text><text x="1028.98" y="565.83">-4.09</text><text x="1073.24" y="565.79">-4.09</text><text x="1117.5" y="565.75">-4.09</text><text x="1161.77" y="565.71">-4.09</text><text x="1206.03" y="565.67">-4.09</text><text x="1250.3" y="565.63">-4.09</text><text x="1294.56" y="565.59">-4.09</text><text x="1338.82" y="565.55">-4.09</text><text x="1383.09" y="565.51">-4.09</text><text x="1427.35" y="565.47">-4.09</text><text x="1471.61" y="565.43">-4.08</text><text x="1515.88" y="565.39">-3.05</text><text x="1560.14" y="565.35">-4.08</text><text x="1604.4" y="565.31">-3.54</text><text x="1648.67" y="565.27">-1.51</text>
<text x="719.13" y="592.04">3.61</text><text x="763.4" y="592">-1.10</text><text x="807.66" y="591.96">2.63</text><text x="851.92" y="591.92">2.12</text><text x="896.19" y="591.88">-1.08</text><text x="940.45" y="591.84">-4.08</text><text x="984.71" y="591.8">-4.09</text><text x="1028.98" y="591.76">-4.09</text><text x="1073.24" y="591.72">-4.09</text><text x="1117.5" y="591.68">-4.09</text><text x="1161.77" y="591.64">-4.09</text><text x="1206.03" y="591.6">-4.09</text><text x="1250.3" y="591.56">-4.09</text><text x="1294.56" y="591.52">-4.08</text><text x="1338.82" y="591.48">-4.08</text><text x="1383.09" y="591.44">-4.08</text><text x="1427.35" y="591.4">-4.08</text><text x="1471.61" y="591.36">-4.08</text><text x="1515.88" y="591.33">-2.94</text><text x="1560.14" y="591.29">-4.08</text><text x="1604.4" y="591.25">-3.54</text><text x="1648.67" y="591.21">-3.23</text>
<text x="719.13" y="617.97">3.80</text><text x="763.4" y="617.93">-3.36</text><text x="807.66" y="617.89">1.38</text><text x="851.92" y="617.85">2.58</text><text x="896.19" y="617.81">0.75</text><text x="940.45" y="617.77">-4.56</text><text x="1294.56" y="617.46">-4.28</text><text x="1338.82" y="617.42">-4.41</text><text x="1427.35" y="617.34">-4.56</text><text x="1471.61" y="617.3">-4.56</text><text x="1515.88" y="617.26">-3.37</text><text x="1560.14" y="617.22">-4.25</text><text x="1604.4" y="617.18">-4.08</text><text x="1648.67" y="617.14">-3.82</text>
<text x="719.13" y="643.91">1.20</text><text x="763.4" y="643.87">-3.16</text><text x="807.66" y="643.83">1.33</text><text x="851.92" y="643.79">0.43</text><text x="896.19" y="643.75">-1.55</text><text x="940.45" y="643.71">-4.09</text><text x="984.71" y="643.67">-4.09</text><text x="1028.98" y="643.63">-4.09</text><text x="1073.24" y="643.59">-4.09</text><text x="1117.5" y="643.55">-4.09</text><text x="1161.77" y="643.51">-4.09</text><text x="1206.03" y="643.47">-4.09</text><text x="1250.3" y="643.43">-4.09</text><text x="1294.56" y="643.39">-4.09</text><text x="1338.82" y="643.35">-4.09</text><text x="1383.09" y="643.31">-4.09</text><text x="1427.35" y="643.27">-4.09</text><text x="1471.61" y="643.23">-4.09</text><text x="1515.88" y="643.19">-1.34</text><text x="1560.14" y="643.15">-4.09</text><text x="1604.4" y="643.12">-3.55</text><text x="1648.67" y="643.08">-3.26</text>
<text x="719.13" y="669.84">3.54</text><text x="763.4" y="669.8">-2.95</text><text x="807.66" y="669.76">2.29</text><text x="851.92" y="669.72">2.66</text><text x="896.19" y="669.68">0.94</text><text x="940.45" y="669.64">-4.08</text><text x="984.71" y="669.6">-4.08</text><text x="1028.98" y="669.56">-4.08</text><text x="1073.24" y="669.52">-4.08</text><text x="1117.5" y="669.48">-4.08</text><text x="1161.77" y="669.44">-4.08</text><text x="1206.03" y="669.41">-4.08</text><text x="1250.3" y="669.37">-4.08</text><text x="1294.56" y="669.33">-4.08</text><text x="1338.82" y="669.29">-4.08</text><text x="1383.09" y="669.25">-4.08</text><text x="1427.35" y="669.21">-4.08</text><text x="1471.61" y="669.17">-4.08</text><text x="1515.88" y="669.13">-1.14</text><text x="1560.14" y="669.09">-4.08</text><text x="1604.4" y="669.05">-3.54</text><text x="1648.67" y="669.01">-3.23</text>
<text x="719.13" y="695.77">2.71</text><text x="763.4" y="695.74">-0.26</text><text x="807.66" y="695.7">2.83</text><text x="851.92" y="695.66">1.35</text><text x="896.19" y="695.62">0.29</text><text x="940.45" y="695.58">-4.08</text><text x="984.71" y="695.54">-4.09</text><text x="1028.98" y="695.5">-4.09</text><text x="1073.24" y="695.46">-4.09</text><text x="1117.5" y="695.42">-4.09</text><text x="1161.77" y="695.38">-4.09</text><text x="1206.03" y="695.34">-4.09</text><text x="1250.3" y="695.3">-4.09</text><text x="1294.56" y="695.26">-4.08</text><text x="1338.82" y="695.22">-4.08</text><text x="1383.09" y="695.18">-4.08</text><text x="1427.35" y="695.14">-4.08</text><text x="1471.61" y="695.1">-4.08</text><text x="1515.88" y="695.06">-3.05</text><text x="1560.14" y="695.02">-4.09</text><text x="1604.4" y="694.98">-3.54</text><text x="1648.67" y="694.94">-3.24</text>
<text x="719.13" y="721.71">1.33</text><text x="763.4" y="721.67">0.55</text><text x="807.66" y="721.63">1.18</text><text x="851.92" y="721.59">1.05</text><text x="896.19" y="721.55">-0.91</text><text x="940.45" y="721.51">-4.09</text><text x="984.71" y="721.47">-4.09</text><text x="1028.98" y="721.43">-4.09</text><text x="1073.24" y="721.39">-4.09</text><text x="1117.5" y="721.35">-4.09</text><text x="1161.77" y="721.31">-4.10</text><text x="1206.03" y="721.27">-4.09</text><text x="1250.3" y="721.23">-4.10</text><text x="1294.56" y="721.2">-4.09</text><text x="1338.82" y="721.16">-4.10</text><text x="1383.09" y="721.12">-4.10</text><text x="1427.35" y="721.08">-4.10</text><text x="1471.61" y="721.04">-4.10</text><text x="1515.88" y="721">-3.38</text><text x="1560.14" y="720.96">-4.10</text><text x="1604.4" y="720.92">-3.57</text><text x="1648.67" y="720.88">-3.28</text>
<text x="719.13" y="747.64">6.30</text><text x="763.4" y="747.6">-3.26</text><text x="807.66" y="747.56">4.70</text><text x="851.92" y="747.53">5.20</text><text x="896.19" y="747.49">1.90</text><text x="940.45" y="747.45">-4.21</text>
<text x="719.13" y="773.58">6.83</text><text x="763.4" y="773.54">-1.92</text><text x="807.66" y="773.5">5.27</text><text x="851.92" y="773.46">5.79</text><text x="896.19" y="773.42">2.12</text>
</g>
<g class="y" transform="matrix(1 0.001 0 1.05 0 0)">
<text x="614.7" y="22.39" textLength="71.09" lengthAdjust="spacing">Vomiting</text>
<text x="626.82" y="50.04" textLength="59.35" lengthAdjust="spacing">Vertigo</text>
<text x="585.38" y="77.74" textLength="100.87" lengthAdjust="spacing">Dehydration</text>
<text x="462.66" y="105.52" textLength="219.82" lengthAdjust="spacing">Product dose omission issue</text>
<text x="454.58" y="133.2" textLength="232.48" lengthAdjust="spacing">Cerebral microhaemorrhage</text>
<text x="478.75" y="160.84" textLength="207.06" lengthAdjust="spacing">Cerebrovascular accident</text>
<text x="557.33" y="188.42" textLength="128.4" lengthAdjust="spacing">Drug ineffective</text>
<text x="590.86" y="216.06" textLength="94.07" lengthAdjust="spacing">Head injury</text>
<text x="626.78" y="243.69" textLength="59.52" lengthAdjust="spacing">Nausea</text>
<text x="458.77" y="271.51" textLength="227.95" lengthAdjust="spacing">Subarachnoid haemorrhage</text>
<text x="505.05" y="299.13" textLength="180.81" lengthAdjust="spacing">Urinary tract infection</text>
<text x="597.35" y="326.7" textLength="88.43" lengthAdjust="spacing">COVID-19</text>
<text x="626" y="354.34" textLength="60.01" lengthAdjust="spacing">Fatigue</text>
<text x="551.48" y="382.07" textLength="133.46" lengthAdjust="spacing">Gait disturbance</text>
<text x="554.82" y="409.74" textLength="130.28" lengthAdjust="spacing">Atrial fibrillation</text>
<text x="519.5" y="437.43" textLength="167.06" lengthAdjust="spacing">Memory impairment</text>
<text x="637.8" y="464.98" textLength="49.41" lengthAdjust="spacing">Death</text>
<text x="573.29" y="492.71" textLength="113.5" lengthAdjust="spacing">Brain oedema</text>
<text x="538.3" y="520.4" textLength="146.63" lengthAdjust="spacing">Cognitive disorder</text>
<text x="378.14" y="548.22" textLength="307.01" lengthAdjust="spacing">Amyloid related imaging abnormalities</text>
<text x="616.7" y="575.66" textLength="68.91" lengthAdjust="spacing">Dizziness</text>
<text x="627.03" y="603.31" textLength="58.84" lengthAdjust="spacing">Seizure</text>
<text x="472.75" y="631.12" textLength="212.62" lengthAdjust="spacing">Dementia Alzheimer's type</text>
<text x="317.63" y="658.93" textLength="364.28" lengthAdjust="spacing">Superficial siderosis of central nervous system</text>
<text x="657.1" y="686.27" textLength="28.32" lengthAdjust="spacing">Fall</text>
<text x="500.05" y="714.09" textLength="186.6" lengthAdjust="spacing">Cerebral haemorrhage</text>
<text x="546.68" y="741.7" textLength="138.81" lengthAdjust="spacing">Confusional state</text>
<text x="605.3" y="769.31" textLength="80.85" lengthAdjust="spacing">Headache</text>
<text x="3.72" y="797.55" textLength="681.07" lengthAdjust="spacing">Amyloid related imaging abnormality-microhaemorrhages and haemosiderin deposits</text>
<text x="251.78" y="824.98" textLength="433.45" lengthAdjust="spacing">Amyloid related imaging abnormality-oedema/effusion</text>
</g>
<g class="x">
<text transform="translate(724.63 905.5) rotate(45)" y="6">ALL</text>
<text transform="translate(768.9 905.5) rotate(45)" y="6">2021</text>
<text transform="translate(813.16 905.5) rotate(45)" y="6">2022</text>
<text transform="translate(857.42 905.5) rotate(45)" y="6">2023</text>
<text transform="translate(901.69 905.5) rotate(45)" y="6">2024</text>
<text transform="translate(945.95 905.5) rotate(45)" y="6">2020</text>
<text transform="translate(990.21 905.5) rotate(45)" y="6">2004</text>
<text transform="translate(1034.48 905.5) rotate(45)" y="6">2005</text>
<text transform="translate(1078.74 905.5) rotate(45)" y="6">2006</text>
<text transform="translate(1123 905.5) rotate(45)" y="6">2007</text>
<text transform="translate(1167.27 905.5) rotate(45)" y="6">2008</text>
<text transform="translate(1211.53 905.5) rotate(45)" y="6">2009</text>
<text transform="translate(1255.8 905.5) rotate(45)" y="6">2010</text>
<text transform="translate(1300.06 905.5) rotate(45)" y="6">2011</text>
<text transform="translate(1344.32 905.5) rotate(45)" y="6">2012</text>
<text transform="translate(1388.59 905.5) rotate(45)" y="6">2013</text>
<text transform="translate(1432.85 905.5) rotate(45)" y="6">2014</text>
<text transform="translate(1477.11 905.5) rotate(45)" y="6">2015</text>
<text transform="translate(1521.38 905.5) rotate(45)" y="6">2016</text>
<text transform="translate(1565.64 905.5) rotate(45)" y="6">2017</text>
<text transform="translate(1609.9 905.5) rotate(45)" y="6">2018</text>
<text transform="translate(1654.17 905.5) rotate(45)" y="6">2019</text>
</g>
<rect x="1678.6" y="5.3" width="19.7" height="867.4" fill="url(#g)" stroke="#8f9295" stroke-width="1.3"/>
<line x1="1698.3" y1="145" x2="1707.3" y2="145" stroke="#8a8a8a" stroke-width="1.6"/><text class="t" x="1711.3" y="152.7">5.0</text>
<line x1="1698.3" y1="335.2" x2="1707.3" y2="335.2" stroke="#8a8a8a" stroke-width="1.6"/><text class="t" x="1711.3" y="342.9">2.5</text>
<line x1="1698.3" y1="525.4" x2="1707.3" y2="525.4" stroke="#8a8a8a" stroke-width="1.6"/><text class="t" x="1711.3" y="533.1">0.0</text>
<line x1="1698.3" y1="715.6" x2="1707.3" y2="715.6" stroke="#8a8a8a" stroke-width="1.6"/><text class="t" x="1711.3" y="723.3">-2.5</text>
<text class="l" transform="translate(1768.7 439.7) rotate(-90)">IC-2SD</text>
</svg>
</body>
</html>
